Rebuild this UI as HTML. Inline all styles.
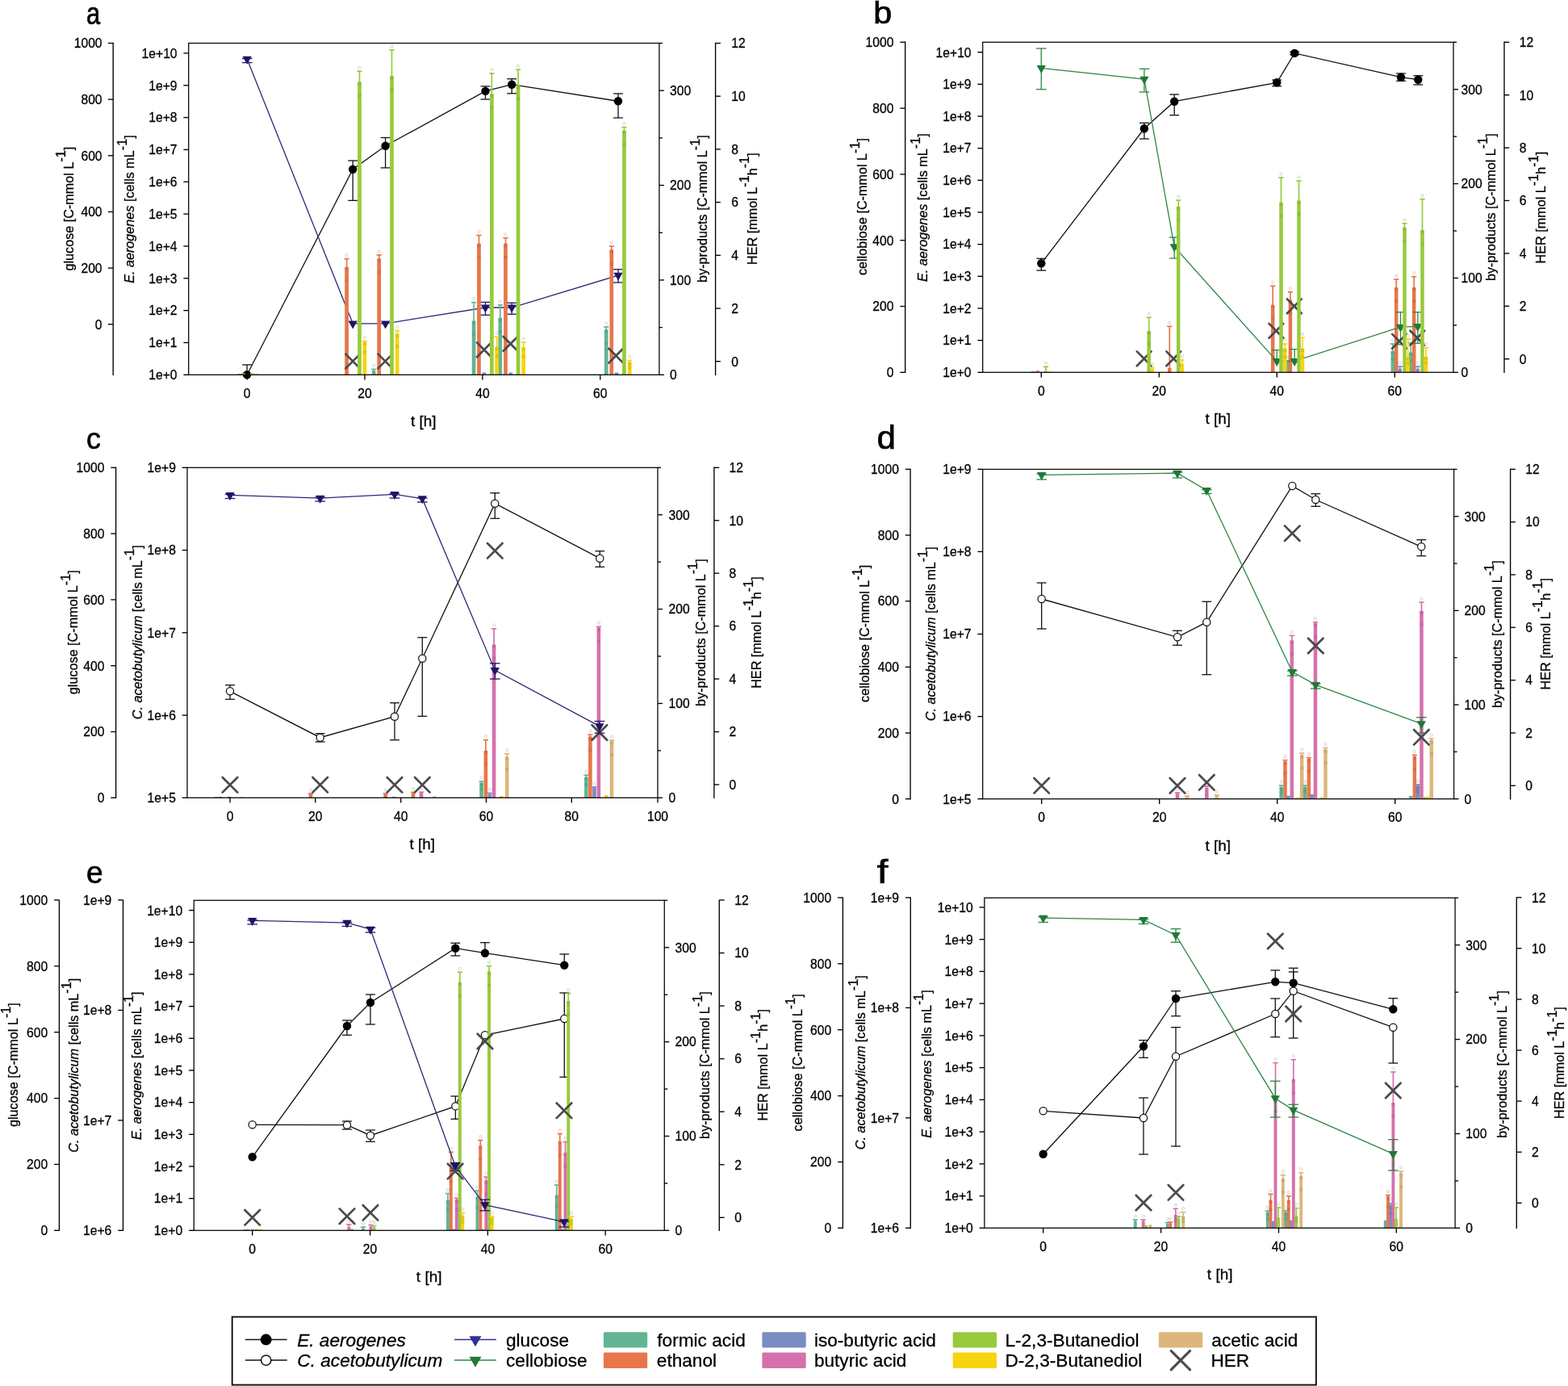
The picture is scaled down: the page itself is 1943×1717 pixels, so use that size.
<!DOCTYPE html>
<html lang="en"><head><meta charset="utf-8"><title>Figure</title>
<style>
html,body{margin:0;padding:0;background:#fff;}
svg{display:block;font-family:"Liberation Sans", Arial, sans-serif;fill:#000;}
svg text{stroke:#000;stroke-width:0.28px;}
svg line,svg polyline,svg rect,svg path{shape-rendering:auto;}
</style></head><body>
<svg width="1943" height="1717" viewBox="0 0 1943 1717">
<rect x="0" y="0" width="1943" height="1717" fill="#fff"/>
<polyline points="306.1,464.3 437.2,209.7 477.6,180.8 601.5,112.9 634.2,104.7 766,125.3" fill="none" stroke="#111" stroke-width="1.3"/>
<line x1="306.1" y1="451.9" x2="306.1" y2="464.3" stroke="#111" stroke-width="1.3" />
<line x1="300.2" y1="451.9" x2="312" y2="451.9" stroke="#111" stroke-width="1.3" />
<line x1="437.2" y1="199" x2="437.2" y2="248.4" stroke="#111" stroke-width="1.3" />
<line x1="431.3" y1="199" x2="443.1" y2="199" stroke="#111" stroke-width="1.3" />
<line x1="431.3" y1="248.4" x2="443.1" y2="248.4" stroke="#111" stroke-width="1.3" />
<line x1="477.6" y1="170.5" x2="477.6" y2="207.9" stroke="#111" stroke-width="1.3" />
<line x1="471.7" y1="170.5" x2="483.5" y2="170.5" stroke="#111" stroke-width="1.3" />
<line x1="471.7" y1="207.9" x2="483.5" y2="207.9" stroke="#111" stroke-width="1.3" />
<line x1="601.5" y1="106.9" x2="601.5" y2="123" stroke="#111" stroke-width="1.3" />
<line x1="595.6" y1="106.9" x2="607.4" y2="106.9" stroke="#111" stroke-width="1.3" />
<line x1="595.6" y1="123" x2="607.4" y2="123" stroke="#111" stroke-width="1.3" />
<line x1="634.2" y1="97.7" x2="634.2" y2="115.8" stroke="#111" stroke-width="1.3" />
<line x1="628.3" y1="97.7" x2="640.1" y2="97.7" stroke="#111" stroke-width="1.3" />
<line x1="628.3" y1="115.8" x2="640.1" y2="115.8" stroke="#111" stroke-width="1.3" />
<line x1="766" y1="116" x2="766" y2="146" stroke="#111" stroke-width="1.3" />
<line x1="760.1" y1="116" x2="771.9" y2="116" stroke="#111" stroke-width="1.3" />
<line x1="760.1" y1="146" x2="771.9" y2="146" stroke="#111" stroke-width="1.3" />
<circle cx="306.1" cy="464.3" r="5.2" fill="#000" stroke="none" stroke-width="0"/>
<circle cx="437.2" cy="209.7" r="5.2" fill="#000" stroke="none" stroke-width="0"/>
<circle cx="477.6" cy="180.8" r="5.2" fill="#000" stroke="none" stroke-width="0"/>
<circle cx="601.5" cy="112.9" r="5.2" fill="#000" stroke="none" stroke-width="0"/>
<circle cx="634.2" cy="104.7" r="5.2" fill="#000" stroke="none" stroke-width="0"/>
<circle cx="766" cy="125.3" r="5.2" fill="#000" stroke="none" stroke-width="0"/>
<polyline points="306.2,73.2 437.2,400.8 477.6,400.8 601.5,381 634.2,381 766,341.1" fill="none" stroke="#2a2a78" stroke-width="1.3"/>
<line x1="306.2" y1="72.5" x2="306.2" y2="77.6" stroke="#1d1565" stroke-width="1.3" />
<line x1="299.9" y1="72.5" x2="312.5" y2="72.5" stroke="#1d1565" stroke-width="1.3" />
<line x1="299.9" y1="77.6" x2="312.5" y2="77.6" stroke="#1d1565" stroke-width="1.3" />
<line x1="601.5" y1="374.4" x2="601.5" y2="390.3" stroke="#1d1565" stroke-width="1.3" />
<line x1="595.2" y1="374.4" x2="607.8" y2="374.4" stroke="#1d1565" stroke-width="1.3" />
<line x1="595.2" y1="390.3" x2="607.8" y2="390.3" stroke="#1d1565" stroke-width="1.3" />
<line x1="634.2" y1="375.2" x2="634.2" y2="389.2" stroke="#1d1565" stroke-width="1.3" />
<line x1="627.9" y1="375.2" x2="640.5" y2="375.2" stroke="#1d1565" stroke-width="1.3" />
<line x1="627.9" y1="389.2" x2="640.5" y2="389.2" stroke="#1d1565" stroke-width="1.3" />
<line x1="766" y1="333.7" x2="766" y2="350" stroke="#1d1565" stroke-width="1.3" />
<line x1="759.7" y1="333.7" x2="772.3" y2="333.7" stroke="#1d1565" stroke-width="1.3" />
<line x1="759.7" y1="350" x2="772.3" y2="350" stroke="#1d1565" stroke-width="1.3" />
<polygon points="300.55,69.8 311.85,69.8 306.2,79.8" fill="#1d1565"/>
<polygon points="431.55,397.4 442.85,397.4 437.2,407.4" fill="#1d1565"/>
<polygon points="471.95,397.4 483.25,397.4 477.6,407.4" fill="#1d1565"/>
<polygon points="595.85,377.6 607.15,377.6 601.5,387.6" fill="#1d1565"/>
<polygon points="628.55,377.6 639.85,377.6 634.2,387.6" fill="#1d1565"/>
<polygon points="760.35,337.7 771.65,337.7 766,347.7" fill="#1d1565"/>
<rect x="295.15" y="463" width="4.7" height="1.3" fill="#62b592"/>
<rect x="299.45" y="462.3" width="4.7" height="2" fill="#e8764b"/>
<line x1="429.6" y1="320.6" x2="429.6" y2="331.3" stroke="#e8764b" stroke-width="1.7" />
<line x1="426.5" y1="320.6" x2="432.7" y2="320.6" stroke="#e8764b" stroke-width="1.7" />
<rect x="427.25" y="330.8" width="4.7" height="133.5" fill="#e8764b"/>
<circle cx="429.6" cy="316.1" r="1.6" fill="#fff" stroke="#aaa" stroke-width="0.5"/>
<circle cx="429.6" cy="333.3" r="1.6" fill="none" stroke="#b9532c" stroke-width="0.55"/>
<circle cx="429.6" cy="347.8" r="1.6" fill="none" stroke="#b9532c" stroke-width="0.55"/>
<line x1="463.2" y1="457.4" x2="463.2" y2="459.7" stroke="#62b592" stroke-width="1.7" />
<line x1="460.1" y1="457.4" x2="466.3" y2="457.4" stroke="#62b592" stroke-width="1.7" />
<rect x="460.85" y="459.2" width="4.7" height="5.1" fill="#62b592"/>
<circle cx="463.2" cy="452.9" r="1.6" fill="#fff" stroke="#aaa" stroke-width="0.5"/>
<line x1="469.7" y1="315.9" x2="469.7" y2="320.8" stroke="#e8764b" stroke-width="1.7" />
<line x1="466.6" y1="315.9" x2="472.8" y2="315.9" stroke="#e8764b" stroke-width="1.7" />
<rect x="467.35" y="320.3" width="4.7" height="144" fill="#e8764b"/>
<circle cx="469.7" cy="311.4" r="1.6" fill="#fff" stroke="#aaa" stroke-width="0.5"/>
<circle cx="469.7" cy="322.8" r="1.6" fill="none" stroke="#b9532c" stroke-width="0.55"/>
<circle cx="469.7" cy="337.3" r="1.6" fill="none" stroke="#b9532c" stroke-width="0.55"/>
<line x1="587.1" y1="374.6" x2="587.1" y2="398" stroke="#62b592" stroke-width="1.7" />
<line x1="584" y1="374.6" x2="590.2" y2="374.6" stroke="#62b592" stroke-width="1.7" />
<rect x="584.75" y="397.5" width="4.7" height="66.8" fill="#62b592"/>
<circle cx="587.1" cy="370.1" r="1.6" fill="#fff" stroke="#aaa" stroke-width="0.5"/>
<circle cx="587.1" cy="400" r="1.6" fill="none" stroke="#3f8f6e" stroke-width="0.55"/>
<circle cx="587.1" cy="414.5" r="1.6" fill="none" stroke="#3f8f6e" stroke-width="0.55"/>
<line x1="593.5" y1="291.5" x2="593.5" y2="302.2" stroke="#e8764b" stroke-width="1.7" />
<line x1="590.4" y1="291.5" x2="596.6" y2="291.5" stroke="#e8764b" stroke-width="1.7" />
<rect x="591.15" y="301.7" width="4.7" height="162.6" fill="#e8764b"/>
<circle cx="593.5" cy="287" r="1.6" fill="#fff" stroke="#aaa" stroke-width="0.5"/>
<circle cx="593.5" cy="304.2" r="1.6" fill="none" stroke="#b9532c" stroke-width="0.55"/>
<circle cx="593.5" cy="318.7" r="1.6" fill="none" stroke="#b9532c" stroke-width="0.55"/>
<rect x="597.55" y="461.5" width="4.7" height="2.8" fill="#7b8cc2"/>
<line x1="619.8" y1="377.9" x2="619.8" y2="394.3" stroke="#62b592" stroke-width="1.7" />
<line x1="616.7" y1="377.9" x2="622.9" y2="377.9" stroke="#62b592" stroke-width="1.7" />
<rect x="617.45" y="393.8" width="4.7" height="70.5" fill="#62b592"/>
<circle cx="619.8" cy="373.4" r="1.6" fill="#fff" stroke="#aaa" stroke-width="0.5"/>
<circle cx="619.8" cy="396.3" r="1.6" fill="none" stroke="#3f8f6e" stroke-width="0.55"/>
<circle cx="619.8" cy="410.8" r="1.6" fill="none" stroke="#3f8f6e" stroke-width="0.55"/>
<line x1="626.5" y1="294.7" x2="626.5" y2="302.2" stroke="#e8764b" stroke-width="1.7" />
<line x1="623.4" y1="294.7" x2="629.6" y2="294.7" stroke="#e8764b" stroke-width="1.7" />
<rect x="624.15" y="301.7" width="4.7" height="162.6" fill="#e8764b"/>
<circle cx="626.5" cy="290.2" r="1.6" fill="#fff" stroke="#aaa" stroke-width="0.5"/>
<circle cx="626.5" cy="304.2" r="1.6" fill="none" stroke="#b9532c" stroke-width="0.55"/>
<circle cx="626.5" cy="318.7" r="1.6" fill="none" stroke="#b9532c" stroke-width="0.55"/>
<rect x="630.45" y="461.5" width="4.7" height="2.8" fill="#7b8cc2"/>
<line x1="751.2" y1="405" x2="751.2" y2="408.8" stroke="#62b592" stroke-width="1.7" />
<line x1="748.1" y1="405" x2="754.3" y2="405" stroke="#62b592" stroke-width="1.7" />
<rect x="748.85" y="408.3" width="4.7" height="56" fill="#62b592"/>
<circle cx="751.2" cy="400.5" r="1.6" fill="#fff" stroke="#aaa" stroke-width="0.5"/>
<circle cx="751.2" cy="410.8" r="1.6" fill="none" stroke="#3f8f6e" stroke-width="0.55"/>
<circle cx="751.2" cy="425.3" r="1.6" fill="none" stroke="#3f8f6e" stroke-width="0.55"/>
<line x1="757.8" y1="305" x2="757.8" y2="309.8" stroke="#e8764b" stroke-width="1.7" />
<line x1="754.7" y1="305" x2="760.9" y2="305" stroke="#e8764b" stroke-width="1.7" />
<rect x="755.45" y="309.3" width="4.7" height="155" fill="#e8764b"/>
<circle cx="757.8" cy="300.5" r="1.6" fill="#fff" stroke="#aaa" stroke-width="0.5"/>
<circle cx="757.8" cy="311.8" r="1.6" fill="none" stroke="#b9532c" stroke-width="0.55"/>
<circle cx="757.8" cy="326.3" r="1.6" fill="none" stroke="#b9532c" stroke-width="0.55"/>
<rect x="761.65" y="461.5" width="4.7" height="2.8" fill="#7b8cc2"/>
<line x1="428.3" y1="438.6" x2="446.1" y2="456.4" stroke="#4a4a4a" stroke-width="2.7" stroke-linecap="round"/>
<line x1="428.3" y1="456.4" x2="446.1" y2="438.6" stroke="#4a4a4a" stroke-width="2.7" stroke-linecap="round"/>
<line x1="468.5" y1="438.6" x2="486.3" y2="456.4" stroke="#4a4a4a" stroke-width="2.7" stroke-linecap="round"/>
<line x1="468.5" y1="456.4" x2="486.3" y2="438.6" stroke="#4a4a4a" stroke-width="2.7" stroke-linecap="round"/>
<line x1="591" y1="424.4" x2="608.8" y2="442.2" stroke="#4a4a4a" stroke-width="2.7" stroke-linecap="round"/>
<line x1="591" y1="442.2" x2="608.8" y2="424.4" stroke="#4a4a4a" stroke-width="2.7" stroke-linecap="round"/>
<line x1="623.7" y1="417" x2="641.5" y2="434.8" stroke="#4a4a4a" stroke-width="2.7" stroke-linecap="round"/>
<line x1="623.7" y1="434.8" x2="641.5" y2="417" stroke="#4a4a4a" stroke-width="2.7" stroke-linecap="round"/>
<line x1="754.4" y1="431.8" x2="772.2" y2="449.6" stroke="#4a4a4a" stroke-width="2.7" stroke-linecap="round"/>
<line x1="754.4" y1="449.6" x2="772.2" y2="431.8" stroke="#4a4a4a" stroke-width="2.7" stroke-linecap="round"/>
<rect x="309.95" y="462.3" width="4.7" height="2" fill="#98ca3c"/>
<rect x="315.65" y="463" width="4.7" height="1.3" fill="#f6d410"/>
<line x1="445.5" y1="88.2" x2="445.5" y2="101.9" stroke="#98ca3c" stroke-width="1.7" />
<line x1="442.4" y1="88.2" x2="448.6" y2="88.2" stroke="#98ca3c" stroke-width="1.7" />
<rect x="443.15" y="101.4" width="4.7" height="362.9" fill="#98ca3c"/>
<circle cx="445.5" cy="83.7" r="1.6" fill="#fff" stroke="#aaa" stroke-width="0.5"/>
<circle cx="445.5" cy="103.9" r="1.6" fill="none" stroke="#6f9f22" stroke-width="0.55"/>
<circle cx="445.5" cy="118.4" r="1.6" fill="none" stroke="#6f9f22" stroke-width="0.55"/>
<line x1="451.9" y1="422.6" x2="451.9" y2="423.9" stroke="#f6d410" stroke-width="1.7" />
<line x1="448.8" y1="422.6" x2="455" y2="422.6" stroke="#f6d410" stroke-width="1.7" />
<rect x="449.55" y="423.4" width="4.7" height="40.9" fill="#f6d410"/>
<circle cx="451.9" cy="418.1" r="1.6" fill="#fff" stroke="#aaa" stroke-width="0.5"/>
<circle cx="451.9" cy="425.9" r="1.6" fill="none" stroke="#b89a00" stroke-width="0.55"/>
<circle cx="451.9" cy="436.62" r="1.6" fill="none" stroke="#b89a00" stroke-width="0.55"/>
<line x1="485.5" y1="61.9" x2="485.5" y2="94.5" stroke="#98ca3c" stroke-width="1.7" />
<line x1="482.4" y1="61.9" x2="488.6" y2="61.9" stroke="#98ca3c" stroke-width="1.7" />
<rect x="483.15" y="94" width="4.7" height="370.3" fill="#98ca3c"/>
<circle cx="485.5" cy="57.4" r="1.6" fill="#fff" stroke="#aaa" stroke-width="0.5"/>
<circle cx="485.5" cy="96.5" r="1.6" fill="none" stroke="#6f9f22" stroke-width="0.55"/>
<circle cx="485.5" cy="111" r="1.6" fill="none" stroke="#6f9f22" stroke-width="0.55"/>
<line x1="492.2" y1="409.6" x2="492.2" y2="414" stroke="#f6d410" stroke-width="1.7" />
<line x1="489.1" y1="409.6" x2="495.3" y2="409.6" stroke="#f6d410" stroke-width="1.7" />
<rect x="489.85" y="413.5" width="4.7" height="50.8" fill="#f6d410"/>
<circle cx="492.2" cy="405.1" r="1.6" fill="#fff" stroke="#aaa" stroke-width="0.5"/>
<circle cx="492.2" cy="416" r="1.6" fill="none" stroke="#b89a00" stroke-width="0.55"/>
<circle cx="492.2" cy="429.2" r="1.6" fill="none" stroke="#b89a00" stroke-width="0.55"/>
<line x1="609.4" y1="90.9" x2="609.4" y2="116.7" stroke="#98ca3c" stroke-width="1.7" />
<line x1="606.3" y1="90.9" x2="612.5" y2="90.9" stroke="#98ca3c" stroke-width="1.7" />
<rect x="607.05" y="116.2" width="4.7" height="348.1" fill="#98ca3c"/>
<circle cx="609.4" cy="86.4" r="1.6" fill="#fff" stroke="#aaa" stroke-width="0.5"/>
<circle cx="609.4" cy="118.7" r="1.6" fill="none" stroke="#6f9f22" stroke-width="0.55"/>
<circle cx="609.4" cy="133.2" r="1.6" fill="none" stroke="#6f9f22" stroke-width="0.55"/>
<line x1="615.7" y1="417.2" x2="615.7" y2="430.1" stroke="#f6d410" stroke-width="1.7" />
<line x1="612.6" y1="417.2" x2="618.8" y2="417.2" stroke="#f6d410" stroke-width="1.7" />
<rect x="613.35" y="429.6" width="4.7" height="34.7" fill="#f6d410"/>
<circle cx="615.7" cy="412.7" r="1.6" fill="#fff" stroke="#aaa" stroke-width="0.5"/>
<circle cx="615.7" cy="432.1" r="1.6" fill="none" stroke="#b89a00" stroke-width="0.55"/>
<circle cx="615.7" cy="441.28" r="1.6" fill="none" stroke="#b89a00" stroke-width="0.55"/>
<line x1="642.1" y1="86.2" x2="642.1" y2="106.2" stroke="#98ca3c" stroke-width="1.7" />
<line x1="639" y1="86.2" x2="645.2" y2="86.2" stroke="#98ca3c" stroke-width="1.7" />
<rect x="639.75" y="105.7" width="4.7" height="358.6" fill="#98ca3c"/>
<circle cx="642.1" cy="81.7" r="1.6" fill="#fff" stroke="#aaa" stroke-width="0.5"/>
<circle cx="642.1" cy="108.2" r="1.6" fill="none" stroke="#6f9f22" stroke-width="0.55"/>
<circle cx="642.1" cy="122.7" r="1.6" fill="none" stroke="#6f9f22" stroke-width="0.55"/>
<line x1="648.7" y1="424" x2="648.7" y2="430.7" stroke="#f6d410" stroke-width="1.7" />
<line x1="645.6" y1="424" x2="651.8" y2="424" stroke="#f6d410" stroke-width="1.7" />
<rect x="646.35" y="430.2" width="4.7" height="34.1" fill="#f6d410"/>
<circle cx="648.7" cy="419.5" r="1.6" fill="#fff" stroke="#aaa" stroke-width="0.5"/>
<circle cx="648.7" cy="432.7" r="1.6" fill="none" stroke="#b89a00" stroke-width="0.55"/>
<circle cx="648.7" cy="441.73" r="1.6" fill="none" stroke="#b89a00" stroke-width="0.55"/>
<line x1="773.5" y1="157.7" x2="773.5" y2="162.2" stroke="#98ca3c" stroke-width="1.7" />
<line x1="770.4" y1="157.7" x2="776.6" y2="157.7" stroke="#98ca3c" stroke-width="1.7" />
<rect x="771.15" y="161.7" width="4.7" height="302.6" fill="#98ca3c"/>
<circle cx="773.5" cy="153.2" r="1.6" fill="#fff" stroke="#aaa" stroke-width="0.5"/>
<circle cx="773.5" cy="164.2" r="1.6" fill="none" stroke="#6f9f22" stroke-width="0.55"/>
<circle cx="773.5" cy="178.7" r="1.6" fill="none" stroke="#6f9f22" stroke-width="0.55"/>
<line x1="780.2" y1="446.5" x2="780.2" y2="448.8" stroke="#f6d410" stroke-width="1.7" />
<line x1="777.1" y1="446.5" x2="783.3" y2="446.5" stroke="#f6d410" stroke-width="1.7" />
<rect x="777.85" y="448.3" width="4.7" height="16" fill="#f6d410"/>
<circle cx="780.2" cy="442" r="1.6" fill="#fff" stroke="#aaa" stroke-width="0.5"/>
<circle cx="780.2" cy="450.8" r="1.6" fill="none" stroke="#b89a00" stroke-width="0.55"/>
<circle cx="780.2" cy="455.3" r="1.6" fill="none" stroke="#b89a00" stroke-width="0.55"/>
<rect x="233.7" y="53.5" width="583.2" height="410.8" fill="none" stroke="#111" stroke-width="1.35"/>
<line x1="233.7" y1="65.9" x2="227.4" y2="65.9" stroke="#000" stroke-width="1.35" />
<text x="219.6" y="71.7" font-size="15.7" text-anchor="end" >1e+10</text>
<line x1="233.7" y1="105.74" x2="227.4" y2="105.74" stroke="#000" stroke-width="1.35" />
<text x="219.6" y="111.54" font-size="15.7" text-anchor="end" >1e+9</text>
<line x1="233.7" y1="145.58" x2="227.4" y2="145.58" stroke="#000" stroke-width="1.35" />
<text x="219.6" y="151.38" font-size="15.7" text-anchor="end" >1e+8</text>
<line x1="233.7" y1="185.42" x2="227.4" y2="185.42" stroke="#000" stroke-width="1.35" />
<text x="219.6" y="191.22" font-size="15.7" text-anchor="end" >1e+7</text>
<line x1="233.7" y1="225.26" x2="227.4" y2="225.26" stroke="#000" stroke-width="1.35" />
<text x="219.6" y="231.06" font-size="15.7" text-anchor="end" >1e+6</text>
<line x1="233.7" y1="265.1" x2="227.4" y2="265.1" stroke="#000" stroke-width="1.35" />
<text x="219.6" y="270.9" font-size="15.7" text-anchor="end" >1e+5</text>
<line x1="233.7" y1="304.94" x2="227.4" y2="304.94" stroke="#000" stroke-width="1.35" />
<text x="219.6" y="310.74" font-size="15.7" text-anchor="end" >1e+4</text>
<line x1="233.7" y1="344.78" x2="227.4" y2="344.78" stroke="#000" stroke-width="1.35" />
<text x="219.6" y="350.58" font-size="15.7" text-anchor="end" >1e+3</text>
<line x1="233.7" y1="384.62" x2="227.4" y2="384.62" stroke="#000" stroke-width="1.35" />
<text x="219.6" y="390.42" font-size="15.7" text-anchor="end" >1e+2</text>
<line x1="233.7" y1="424.46" x2="227.4" y2="424.46" stroke="#000" stroke-width="1.35" />
<text x="219.6" y="430.26" font-size="15.7" text-anchor="end" >1e+1</text>
<line x1="233.7" y1="464.3" x2="227.4" y2="464.3" stroke="#000" stroke-width="1.35" />
<text x="219.6" y="470.1" font-size="15.7" text-anchor="end" >1e+0</text>
<line x1="140.2" y1="52.83" x2="140.2" y2="464.98" stroke="#000" stroke-width="1.35" />
<line x1="140.2" y1="401.7" x2="133.9" y2="401.7" stroke="#000" stroke-width="1.35" />
<text x="126.6" y="407.5" font-size="15.7" text-anchor="end" >0</text>
<line x1="140.2" y1="332.06" x2="133.9" y2="332.06" stroke="#000" stroke-width="1.35" />
<text x="126.6" y="337.86" font-size="15.7" text-anchor="end" >200</text>
<line x1="140.2" y1="262.42" x2="133.9" y2="262.42" stroke="#000" stroke-width="1.35" />
<text x="126.6" y="268.22" font-size="15.7" text-anchor="end" >400</text>
<line x1="140.2" y1="192.78" x2="133.9" y2="192.78" stroke="#000" stroke-width="1.35" />
<text x="126.6" y="198.58" font-size="15.7" text-anchor="end" >600</text>
<line x1="140.2" y1="123.14" x2="133.9" y2="123.14" stroke="#000" stroke-width="1.35" />
<text x="126.6" y="128.94" font-size="15.7" text-anchor="end" >800</text>
<line x1="140.2" y1="53.5" x2="133.9" y2="53.5" stroke="#000" stroke-width="1.35" />
<text x="126.6" y="59.3" font-size="15.7" text-anchor="end" >1000</text>
<line x1="816.9" y1="464.3" x2="822.9" y2="464.3" stroke="#000" stroke-width="1.35" />
<text x="830" y="470.1" font-size="15.7" text-anchor="start" >0</text>
<line x1="816.9" y1="346.93" x2="822.9" y2="346.93" stroke="#000" stroke-width="1.35" />
<text x="830" y="352.73" font-size="15.7" text-anchor="start" >100</text>
<line x1="816.9" y1="229.56" x2="822.9" y2="229.56" stroke="#000" stroke-width="1.35" />
<text x="830" y="235.36" font-size="15.7" text-anchor="start" >200</text>
<line x1="816.9" y1="112.19" x2="822.9" y2="112.19" stroke="#000" stroke-width="1.35" />
<text x="830" y="117.99" font-size="15.7" text-anchor="start" >300</text>
<line x1="816.9" y1="405.61" x2="820.9" y2="405.61" stroke="#000" stroke-width="1.35" />
<line x1="816.9" y1="288.24" x2="820.9" y2="288.24" stroke="#000" stroke-width="1.35" />
<line x1="816.9" y1="170.87" x2="820.9" y2="170.87" stroke="#000" stroke-width="1.35" />
<line x1="816.9" y1="53.5" x2="820.9" y2="53.5" stroke="#000" stroke-width="1.35" />
<line x1="886.6" y1="52.83" x2="886.6" y2="464.98" stroke="#000" stroke-width="1.35" />
<line x1="886.6" y1="447.7" x2="892.9" y2="447.7" stroke="#000" stroke-width="1.35" />
<text x="906.2" y="453.5" font-size="15.7" text-anchor="start" >0</text>
<line x1="886.6" y1="382" x2="892.9" y2="382" stroke="#000" stroke-width="1.35" />
<text x="906.2" y="387.8" font-size="15.7" text-anchor="start" >2</text>
<line x1="886.6" y1="316.3" x2="892.9" y2="316.3" stroke="#000" stroke-width="1.35" />
<text x="906.2" y="322.1" font-size="15.7" text-anchor="start" >4</text>
<line x1="886.6" y1="250.6" x2="892.9" y2="250.6" stroke="#000" stroke-width="1.35" />
<text x="906.2" y="256.4" font-size="15.7" text-anchor="start" >6</text>
<line x1="886.6" y1="184.9" x2="892.9" y2="184.9" stroke="#000" stroke-width="1.35" />
<text x="906.2" y="190.7" font-size="15.7" text-anchor="start" >8</text>
<line x1="886.6" y1="119.2" x2="892.9" y2="119.2" stroke="#000" stroke-width="1.35" />
<text x="906.2" y="125" font-size="15.7" text-anchor="start" >10</text>
<line x1="886.6" y1="53.5" x2="892.9" y2="53.5" stroke="#000" stroke-width="1.35" />
<text x="906.2" y="59.3" font-size="15.7" text-anchor="start" >12</text>
<line x1="306.1" y1="464.3" x2="306.1" y2="470.5" stroke="#000" stroke-width="1.35" />
<text x="306.1" y="492.6" font-size="15.7" text-anchor="middle" >0</text>
<line x1="452" y1="464.3" x2="452" y2="470.5" stroke="#000" stroke-width="1.35" />
<text x="452" y="492.6" font-size="15.7" text-anchor="middle" >20</text>
<line x1="597.9" y1="464.3" x2="597.9" y2="470.5" stroke="#000" stroke-width="1.35" />
<text x="597.9" y="492.6" font-size="15.7" text-anchor="middle" >40</text>
<line x1="743.8" y1="464.3" x2="743.8" y2="470.5" stroke="#000" stroke-width="1.35" />
<text x="743.8" y="492.6" font-size="15.7" text-anchor="middle" >60</text>
<text x="524.8" y="528.1" font-size="19" text-anchor="middle" >t [h]</text>
<text transform="translate(91,181.65) rotate(-90)" font-size="16.2" text-anchor="end"><tspan dy="0">glucose [C-mmol L</tspan><tspan dy="-9.56">-1</tspan><tspan dy="9.56">]</tspan></text>
<text transform="translate(166.2,167.25) rotate(-90)" font-size="16.2" text-anchor="end"><tspan dy="0" font-style="italic">E. aerogenes</tspan><tspan dy="0"> [cells mL</tspan><tspan dy="-9.56">-1</tspan><tspan dy="9.56">]</tspan></text>
<text transform="translate(876.1,167.25) rotate(-90)" font-size="16.2" text-anchor="end"><tspan dy="0">by-products [C-mmol L</tspan><tspan dy="-9.56">-1</tspan><tspan dy="9.56">]</tspan></text>
<text transform="translate(937.9,189.35) rotate(-90)" font-size="16.2" text-anchor="end"><tspan dy="0">HER [mmol L</tspan><tspan dy="-9.56">-1</tspan><tspan dy="9.56">h</tspan><tspan dy="-9.56">-1</tspan><tspan dy="9.56">]</tspan></text>
<text transform="translate(106.9,29.6) scale(0.8125,1.004)" font-size="38" style="stroke-width:0.7px">a</text>
<polyline points="1290.3,326.3 1417.9,159.3 1455.2,125.7 1582.2,102.3 1604.2,65.9 1736,95.7 1757.3,98.7" fill="none" stroke="#111" stroke-width="1.3"/>
<line x1="1290.3" y1="320.3" x2="1290.3" y2="335" stroke="#111" stroke-width="1.3" />
<line x1="1284.4" y1="320.3" x2="1296.2" y2="320.3" stroke="#111" stroke-width="1.3" />
<line x1="1284.4" y1="335" x2="1296.2" y2="335" stroke="#111" stroke-width="1.3" />
<line x1="1417.9" y1="152.3" x2="1417.9" y2="172" stroke="#111" stroke-width="1.3" />
<line x1="1412" y1="152.3" x2="1423.8" y2="152.3" stroke="#111" stroke-width="1.3" />
<line x1="1412" y1="172" x2="1423.8" y2="172" stroke="#111" stroke-width="1.3" />
<line x1="1455.2" y1="117" x2="1455.2" y2="142.7" stroke="#111" stroke-width="1.3" />
<line x1="1449.3" y1="117" x2="1461.1" y2="117" stroke="#111" stroke-width="1.3" />
<line x1="1449.3" y1="142.7" x2="1461.1" y2="142.7" stroke="#111" stroke-width="1.3" />
<line x1="1582.2" y1="99" x2="1582.2" y2="106.7" stroke="#111" stroke-width="1.3" />
<line x1="1576.3" y1="99" x2="1588.1" y2="99" stroke="#111" stroke-width="1.3" />
<line x1="1576.3" y1="106.7" x2="1588.1" y2="106.7" stroke="#111" stroke-width="1.3" />
<line x1="1604.2" y1="64.2" x2="1604.2" y2="67.8" stroke="#111" stroke-width="1.3" />
<line x1="1598.3" y1="64.2" x2="1610.1" y2="64.2" stroke="#111" stroke-width="1.3" />
<line x1="1598.3" y1="67.8" x2="1610.1" y2="67.8" stroke="#111" stroke-width="1.3" />
<line x1="1736" y1="91" x2="1736" y2="100.3" stroke="#111" stroke-width="1.3" />
<line x1="1730.1" y1="91" x2="1741.9" y2="91" stroke="#111" stroke-width="1.3" />
<line x1="1730.1" y1="100.3" x2="1741.9" y2="100.3" stroke="#111" stroke-width="1.3" />
<line x1="1757.3" y1="93.7" x2="1757.3" y2="105" stroke="#111" stroke-width="1.3" />
<line x1="1751.4" y1="93.7" x2="1763.2" y2="93.7" stroke="#111" stroke-width="1.3" />
<line x1="1751.4" y1="105" x2="1763.2" y2="105" stroke="#111" stroke-width="1.3" />
<circle cx="1290.3" cy="326.3" r="5.2" fill="#000" stroke="none" stroke-width="0"/>
<circle cx="1417.9" cy="159.3" r="5.2" fill="#000" stroke="none" stroke-width="0"/>
<circle cx="1455.2" cy="125.7" r="5.2" fill="#000" stroke="none" stroke-width="0"/>
<circle cx="1582.2" cy="102.3" r="5.2" fill="#000" stroke="none" stroke-width="0"/>
<circle cx="1604.2" cy="65.9" r="5.2" fill="#000" stroke="none" stroke-width="0"/>
<circle cx="1736" cy="95.7" r="5.2" fill="#000" stroke="none" stroke-width="0"/>
<circle cx="1757.3" cy="98.7" r="5.2" fill="#000" stroke="none" stroke-width="0"/>
<rect x="1277.75" y="460" width="4.5" height="1.3" fill="#62b592"/>
<rect x="1283.45" y="459.2" width="4.5" height="2.1" fill="#e8764b"/>
<line x1="1449.3" y1="404.3" x2="1449.3" y2="456.5" stroke="#e8764b" stroke-width="1.7" />
<line x1="1446.2" y1="404.3" x2="1452.4" y2="404.3" stroke="#e8764b" stroke-width="1.7" />
<rect x="1447.05" y="456" width="4.5" height="5.3" fill="#e8764b"/>
<circle cx="1449.3" cy="399.8" r="1.6" fill="#fff" stroke="#aaa" stroke-width="0.5"/>
<line x1="1577.2" y1="354.3" x2="1577.2" y2="378.2" stroke="#e8764b" stroke-width="1.7" />
<line x1="1574.1" y1="354.3" x2="1580.3" y2="354.3" stroke="#e8764b" stroke-width="1.7" />
<rect x="1574.95" y="377.7" width="4.5" height="83.6" fill="#e8764b"/>
<circle cx="1577.2" cy="349.8" r="1.6" fill="#fff" stroke="#aaa" stroke-width="0.5"/>
<circle cx="1577.2" cy="380.2" r="1.6" fill="none" stroke="#b9532c" stroke-width="0.55"/>
<circle cx="1577.2" cy="394.7" r="1.6" fill="none" stroke="#b9532c" stroke-width="0.55"/>
<line x1="1595.8" y1="447" x2="1595.8" y2="448.2" stroke="#62b592" stroke-width="1.7" />
<line x1="1592.7" y1="447" x2="1598.9" y2="447" stroke="#62b592" stroke-width="1.7" />
<rect x="1593.55" y="447.7" width="4.5" height="13.6" fill="#62b592"/>
<circle cx="1595.8" cy="442.5" r="1.6" fill="#fff" stroke="#aaa" stroke-width="0.5"/>
<line x1="1598.9" y1="361.7" x2="1598.9" y2="372" stroke="#e8764b" stroke-width="1.7" />
<line x1="1595.8" y1="361.7" x2="1602" y2="361.7" stroke="#e8764b" stroke-width="1.7" />
<rect x="1596.65" y="371.5" width="4.5" height="89.8" fill="#e8764b"/>
<circle cx="1598.9" cy="357.2" r="1.6" fill="#fff" stroke="#aaa" stroke-width="0.5"/>
<circle cx="1598.9" cy="374" r="1.6" fill="none" stroke="#b9532c" stroke-width="0.55"/>
<circle cx="1598.9" cy="388.5" r="1.6" fill="none" stroke="#b9532c" stroke-width="0.55"/>
<line x1="1725.8" y1="426" x2="1725.8" y2="435.5" stroke="#62b592" stroke-width="1.7" />
<line x1="1722.7" y1="426" x2="1728.9" y2="426" stroke="#62b592" stroke-width="1.7" />
<rect x="1723.55" y="435" width="4.5" height="26.3" fill="#62b592"/>
<circle cx="1725.8" cy="421.5" r="1.6" fill="#fff" stroke="#aaa" stroke-width="0.5"/>
<circle cx="1725.8" cy="437.5" r="1.6" fill="none" stroke="#3f8f6e" stroke-width="0.55"/>
<circle cx="1725.8" cy="444.57" r="1.6" fill="none" stroke="#3f8f6e" stroke-width="0.55"/>
<line x1="1730.2" y1="346" x2="1730.2" y2="356.5" stroke="#e8764b" stroke-width="1.7" />
<line x1="1727.1" y1="346" x2="1733.3" y2="346" stroke="#e8764b" stroke-width="1.7" />
<rect x="1727.95" y="356" width="4.5" height="105.3" fill="#e8764b"/>
<circle cx="1730.2" cy="341.5" r="1.6" fill="#fff" stroke="#aaa" stroke-width="0.5"/>
<circle cx="1730.2" cy="358.5" r="1.6" fill="none" stroke="#b9532c" stroke-width="0.55"/>
<circle cx="1730.2" cy="373" r="1.6" fill="none" stroke="#b9532c" stroke-width="0.55"/>
<line x1="1734.7" y1="454" x2="1734.7" y2="457.2" stroke="#7b8cc2" stroke-width="1.7" />
<line x1="1731.6" y1="454" x2="1737.8" y2="454" stroke="#7b8cc2" stroke-width="1.7" />
<rect x="1732.45" y="456.7" width="4.5" height="4.6" fill="#7b8cc2"/>
<circle cx="1734.7" cy="449.5" r="1.6" fill="#fff" stroke="#aaa" stroke-width="0.5"/>
<line x1="1748.2" y1="425" x2="1748.2" y2="437" stroke="#62b592" stroke-width="1.7" />
<line x1="1745.1" y1="425" x2="1751.3" y2="425" stroke="#62b592" stroke-width="1.7" />
<rect x="1745.95" y="436.5" width="4.5" height="24.8" fill="#62b592"/>
<circle cx="1748.2" cy="420.5" r="1.6" fill="#fff" stroke="#aaa" stroke-width="0.5"/>
<circle cx="1748.2" cy="439" r="1.6" fill="none" stroke="#3f8f6e" stroke-width="0.55"/>
<circle cx="1748.2" cy="445.7" r="1.6" fill="none" stroke="#3f8f6e" stroke-width="0.55"/>
<line x1="1752.2" y1="342.7" x2="1752.2" y2="356.5" stroke="#e8764b" stroke-width="1.7" />
<line x1="1749.1" y1="342.7" x2="1755.3" y2="342.7" stroke="#e8764b" stroke-width="1.7" />
<rect x="1749.95" y="356" width="4.5" height="105.3" fill="#e8764b"/>
<circle cx="1752.2" cy="338.2" r="1.6" fill="#fff" stroke="#aaa" stroke-width="0.5"/>
<circle cx="1752.2" cy="358.5" r="1.6" fill="none" stroke="#b9532c" stroke-width="0.55"/>
<circle cx="1752.2" cy="373" r="1.6" fill="none" stroke="#b9532c" stroke-width="0.55"/>
<line x1="1756.7" y1="454" x2="1756.7" y2="457.5" stroke="#7b8cc2" stroke-width="1.7" />
<line x1="1753.6" y1="454" x2="1759.8" y2="454" stroke="#7b8cc2" stroke-width="1.7" />
<rect x="1754.45" y="457" width="4.5" height="4.3" fill="#7b8cc2"/>
<circle cx="1756.7" cy="449.5" r="1.6" fill="#fff" stroke="#aaa" stroke-width="0.5"/>
<polyline points="1290.3,84.4 1417.9,98.1 1455.2,305.7 1582.2,447.4 1604.2,447.4 1735.5,405.1 1756.8,404.4" fill="none" stroke="#2d8644" stroke-width="1.3"/>
<line x1="1290.3" y1="60" x2="1290.3" y2="110.7" stroke="#2d8644" stroke-width="1.3" />
<line x1="1284" y1="60" x2="1296.6" y2="60" stroke="#2d8644" stroke-width="1.3" />
<line x1="1284" y1="110.7" x2="1296.6" y2="110.7" stroke="#2d8644" stroke-width="1.3" />
<line x1="1417.9" y1="85.3" x2="1417.9" y2="114" stroke="#2d8644" stroke-width="1.3" />
<line x1="1411.6" y1="85.3" x2="1424.2" y2="85.3" stroke="#2d8644" stroke-width="1.3" />
<line x1="1411.6" y1="114" x2="1424.2" y2="114" stroke="#2d8644" stroke-width="1.3" />
<line x1="1455.2" y1="294" x2="1455.2" y2="320" stroke="#2d8644" stroke-width="1.3" />
<line x1="1448.9" y1="294" x2="1461.5" y2="294" stroke="#2d8644" stroke-width="1.3" />
<line x1="1448.9" y1="320" x2="1461.5" y2="320" stroke="#2d8644" stroke-width="1.3" />
<line x1="1582.2" y1="433.7" x2="1582.2" y2="449" stroke="#2d8644" stroke-width="1.3" />
<line x1="1575.9" y1="433.7" x2="1588.5" y2="433.7" stroke="#2d8644" stroke-width="1.3" />
<line x1="1604.2" y1="432.7" x2="1604.2" y2="449" stroke="#2d8644" stroke-width="1.3" />
<line x1="1597.9" y1="432.7" x2="1610.5" y2="432.7" stroke="#2d8644" stroke-width="1.3" />
<line x1="1735.5" y1="386.7" x2="1735.5" y2="426.7" stroke="#2d8644" stroke-width="1.3" />
<line x1="1729.2" y1="386.7" x2="1741.8" y2="386.7" stroke="#2d8644" stroke-width="1.3" />
<line x1="1729.2" y1="426.7" x2="1741.8" y2="426.7" stroke="#2d8644" stroke-width="1.3" />
<line x1="1756.8" y1="386.7" x2="1756.8" y2="425.3" stroke="#2d8644" stroke-width="1.3" />
<line x1="1750.5" y1="386.7" x2="1763.1" y2="386.7" stroke="#2d8644" stroke-width="1.3" />
<line x1="1750.5" y1="425.3" x2="1763.1" y2="425.3" stroke="#2d8644" stroke-width="1.3" />
<polygon points="1284.65,81 1295.95,81 1290.3,91" fill="#1e7a35"/>
<polygon points="1412.25,94.7 1423.55,94.7 1417.9,104.7" fill="#1e7a35"/>
<polygon points="1449.55,302.3 1460.85,302.3 1455.2,312.3" fill="#1e7a35"/>
<polygon points="1576.55,444 1587.85,444 1582.2,454" fill="#1e7a35"/>
<polygon points="1598.55,444 1609.85,444 1604.2,454" fill="#1e7a35"/>
<polygon points="1729.85,401.7 1741.15,401.7 1735.5,411.7" fill="#1e7a35"/>
<polygon points="1751.15,401 1762.45,401 1756.8,411" fill="#1e7a35"/>
<line x1="1408.8" y1="435.4" x2="1426.6" y2="453.2" stroke="#4a4a4a" stroke-width="2.7" stroke-linecap="round"/>
<line x1="1408.8" y1="453.2" x2="1426.6" y2="435.4" stroke="#4a4a4a" stroke-width="2.7" stroke-linecap="round"/>
<line x1="1445.4" y1="435.4" x2="1463.2" y2="453.2" stroke="#4a4a4a" stroke-width="2.7" stroke-linecap="round"/>
<line x1="1445.4" y1="453.2" x2="1463.2" y2="435.4" stroke="#4a4a4a" stroke-width="2.7" stroke-linecap="round"/>
<line x1="1572.5" y1="400.9" x2="1590.3" y2="418.7" stroke="#4a4a4a" stroke-width="2.7" stroke-linecap="round"/>
<line x1="1572.5" y1="418.7" x2="1590.3" y2="400.9" stroke="#4a4a4a" stroke-width="2.7" stroke-linecap="round"/>
<line x1="1594.9" y1="370.4" x2="1612.7" y2="388.2" stroke="#4a4a4a" stroke-width="2.7" stroke-linecap="round"/>
<line x1="1594.9" y1="388.2" x2="1612.7" y2="370.4" stroke="#4a4a4a" stroke-width="2.7" stroke-linecap="round"/>
<line x1="1725.1" y1="413.9" x2="1742.9" y2="431.7" stroke="#4a4a4a" stroke-width="2.7" stroke-linecap="round"/>
<line x1="1725.1" y1="431.7" x2="1742.9" y2="413.9" stroke="#4a4a4a" stroke-width="2.7" stroke-linecap="round"/>
<line x1="1747.4" y1="409.7" x2="1765.2" y2="427.5" stroke="#4a4a4a" stroke-width="2.7" stroke-linecap="round"/>
<line x1="1747.4" y1="427.5" x2="1765.2" y2="409.7" stroke="#4a4a4a" stroke-width="2.7" stroke-linecap="round"/>
<line x1="1296" y1="454.3" x2="1296" y2="460.5" stroke="#98ca3c" stroke-width="1.7" />
<line x1="1292.9" y1="454.3" x2="1299.1" y2="454.3" stroke="#98ca3c" stroke-width="1.7" />
<rect x="1293.75" y="460" width="4.5" height="1.3" fill="#98ca3c"/>
<circle cx="1296" cy="449.8" r="1.6" fill="#fff" stroke="#aaa" stroke-width="0.5"/>
<rect x="1298.75" y="460.3" width="4.5" height="1" fill="#f6d410"/>
<line x1="1423.7" y1="393.3" x2="1423.7" y2="410.5" stroke="#98ca3c" stroke-width="1.7" />
<line x1="1420.6" y1="393.3" x2="1426.8" y2="393.3" stroke="#98ca3c" stroke-width="1.7" />
<rect x="1421.45" y="410" width="4.5" height="51.3" fill="#98ca3c"/>
<circle cx="1423.7" cy="388.8" r="1.6" fill="#fff" stroke="#aaa" stroke-width="0.5"/>
<circle cx="1423.7" cy="412.5" r="1.6" fill="none" stroke="#6f9f22" stroke-width="0.55"/>
<circle cx="1423.7" cy="425.82" r="1.6" fill="none" stroke="#6f9f22" stroke-width="0.55"/>
<line x1="1427.7" y1="455.5" x2="1427.7" y2="457.2" stroke="#f6d410" stroke-width="1.7" />
<line x1="1424.6" y1="455.5" x2="1430.8" y2="455.5" stroke="#f6d410" stroke-width="1.7" />
<rect x="1425.45" y="456.7" width="4.5" height="4.6" fill="#f6d410"/>
<circle cx="1427.7" cy="451" r="1.6" fill="#fff" stroke="#aaa" stroke-width="0.5"/>
<line x1="1460.2" y1="248" x2="1460.2" y2="256.5" stroke="#98ca3c" stroke-width="1.7" />
<line x1="1457.1" y1="248" x2="1463.3" y2="248" stroke="#98ca3c" stroke-width="1.7" />
<rect x="1457.95" y="256" width="4.5" height="205.3" fill="#98ca3c"/>
<circle cx="1460.2" cy="243.5" r="1.6" fill="#fff" stroke="#aaa" stroke-width="0.5"/>
<circle cx="1460.2" cy="258.5" r="1.6" fill="none" stroke="#6f9f22" stroke-width="0.55"/>
<circle cx="1460.2" cy="273" r="1.6" fill="none" stroke="#6f9f22" stroke-width="0.55"/>
<line x1="1464.7" y1="446" x2="1464.7" y2="451.2" stroke="#f6d410" stroke-width="1.7" />
<line x1="1461.6" y1="446" x2="1467.8" y2="446" stroke="#f6d410" stroke-width="1.7" />
<rect x="1462.45" y="450.7" width="4.5" height="10.6" fill="#f6d410"/>
<circle cx="1464.7" cy="441.5" r="1.6" fill="#fff" stroke="#aaa" stroke-width="0.5"/>
<line x1="1587.5" y1="220" x2="1587.5" y2="251.2" stroke="#98ca3c" stroke-width="1.7" />
<line x1="1584.4" y1="220" x2="1590.6" y2="220" stroke="#98ca3c" stroke-width="1.7" />
<rect x="1585.25" y="250.7" width="4.5" height="210.6" fill="#98ca3c"/>
<circle cx="1587.5" cy="215.5" r="1.6" fill="#fff" stroke="#aaa" stroke-width="0.5"/>
<circle cx="1587.5" cy="253.2" r="1.6" fill="none" stroke="#6f9f22" stroke-width="0.55"/>
<circle cx="1587.5" cy="267.7" r="1.6" fill="none" stroke="#6f9f22" stroke-width="0.55"/>
<line x1="1592.3" y1="426" x2="1592.3" y2="432.2" stroke="#f6d410" stroke-width="1.7" />
<line x1="1589.2" y1="426" x2="1595.4" y2="426" stroke="#f6d410" stroke-width="1.7" />
<rect x="1590.05" y="431.7" width="4.5" height="29.6" fill="#f6d410"/>
<circle cx="1592.3" cy="421.5" r="1.6" fill="#fff" stroke="#aaa" stroke-width="0.5"/>
<circle cx="1592.3" cy="434.2" r="1.6" fill="none" stroke="#b89a00" stroke-width="0.55"/>
<circle cx="1592.3" cy="442.1" r="1.6" fill="none" stroke="#b89a00" stroke-width="0.55"/>
<line x1="1609.5" y1="224" x2="1609.5" y2="248.8" stroke="#98ca3c" stroke-width="1.7" />
<line x1="1606.4" y1="224" x2="1612.6" y2="224" stroke="#98ca3c" stroke-width="1.7" />
<rect x="1607.25" y="248.3" width="4.5" height="213" fill="#98ca3c"/>
<circle cx="1609.5" cy="219.5" r="1.6" fill="#fff" stroke="#aaa" stroke-width="0.5"/>
<circle cx="1609.5" cy="250.8" r="1.6" fill="none" stroke="#6f9f22" stroke-width="0.55"/>
<circle cx="1609.5" cy="265.3" r="1.6" fill="none" stroke="#6f9f22" stroke-width="0.55"/>
<line x1="1614" y1="418.3" x2="1614" y2="432.2" stroke="#f6d410" stroke-width="1.7" />
<line x1="1610.9" y1="418.3" x2="1617.1" y2="418.3" stroke="#f6d410" stroke-width="1.7" />
<rect x="1611.75" y="431.7" width="4.5" height="29.6" fill="#f6d410"/>
<circle cx="1614" cy="413.8" r="1.6" fill="#fff" stroke="#aaa" stroke-width="0.5"/>
<circle cx="1614" cy="434.2" r="1.6" fill="none" stroke="#b89a00" stroke-width="0.55"/>
<circle cx="1614" cy="442.1" r="1.6" fill="none" stroke="#b89a00" stroke-width="0.55"/>
<line x1="1740.5" y1="276.7" x2="1740.5" y2="282.2" stroke="#98ca3c" stroke-width="1.7" />
<line x1="1737.4" y1="276.7" x2="1743.6" y2="276.7" stroke="#98ca3c" stroke-width="1.7" />
<rect x="1738.25" y="281.7" width="4.5" height="179.6" fill="#98ca3c"/>
<circle cx="1740.5" cy="272.2" r="1.6" fill="#fff" stroke="#aaa" stroke-width="0.5"/>
<circle cx="1740.5" cy="284.2" r="1.6" fill="none" stroke="#6f9f22" stroke-width="0.55"/>
<circle cx="1740.5" cy="298.7" r="1.6" fill="none" stroke="#6f9f22" stroke-width="0.55"/>
<line x1="1744.6" y1="419.9" x2="1744.6" y2="442.3" stroke="#f6d410" stroke-width="1.7" />
<line x1="1741.5" y1="419.9" x2="1747.7" y2="419.9" stroke="#f6d410" stroke-width="1.7" />
<rect x="1742.35" y="441.8" width="4.5" height="19.5" fill="#f6d410"/>
<circle cx="1744.6" cy="415.4" r="1.6" fill="#fff" stroke="#aaa" stroke-width="0.5"/>
<circle cx="1744.6" cy="444.3" r="1.6" fill="none" stroke="#b89a00" stroke-width="0.55"/>
<circle cx="1744.6" cy="449.68" r="1.6" fill="none" stroke="#b89a00" stroke-width="0.55"/>
<line x1="1762.5" y1="246.7" x2="1762.5" y2="285.5" stroke="#98ca3c" stroke-width="1.7" />
<line x1="1759.4" y1="246.7" x2="1765.6" y2="246.7" stroke="#98ca3c" stroke-width="1.7" />
<rect x="1760.25" y="285" width="4.5" height="176.3" fill="#98ca3c"/>
<circle cx="1762.5" cy="242.2" r="1.6" fill="#fff" stroke="#aaa" stroke-width="0.5"/>
<circle cx="1762.5" cy="287.5" r="1.6" fill="none" stroke="#6f9f22" stroke-width="0.55"/>
<circle cx="1762.5" cy="302" r="1.6" fill="none" stroke="#6f9f22" stroke-width="0.55"/>
<line x1="1767" y1="430.7" x2="1767" y2="442.2" stroke="#f6d410" stroke-width="1.7" />
<line x1="1763.9" y1="430.7" x2="1770.1" y2="430.7" stroke="#f6d410" stroke-width="1.7" />
<rect x="1764.75" y="441.7" width="4.5" height="19.6" fill="#f6d410"/>
<circle cx="1767" cy="426.2" r="1.6" fill="#fff" stroke="#aaa" stroke-width="0.5"/>
<circle cx="1767" cy="444.2" r="1.6" fill="none" stroke="#b89a00" stroke-width="0.55"/>
<circle cx="1767" cy="449.6" r="1.6" fill="none" stroke="#b89a00" stroke-width="0.55"/>
<rect x="1217.7" y="52.3" width="583.3" height="409" fill="none" stroke="#111" stroke-width="1.35"/>
<line x1="1217.7" y1="64.7" x2="1211.4" y2="64.7" stroke="#000" stroke-width="1.35" />
<text x="1203.6" y="70.5" font-size="15.7" text-anchor="end" >1e+10</text>
<line x1="1217.7" y1="104.36" x2="1211.4" y2="104.36" stroke="#000" stroke-width="1.35" />
<text x="1203.6" y="110.16" font-size="15.7" text-anchor="end" >1e+9</text>
<line x1="1217.7" y1="144.02" x2="1211.4" y2="144.02" stroke="#000" stroke-width="1.35" />
<text x="1203.6" y="149.82" font-size="15.7" text-anchor="end" >1e+8</text>
<line x1="1217.7" y1="183.68" x2="1211.4" y2="183.68" stroke="#000" stroke-width="1.35" />
<text x="1203.6" y="189.48" font-size="15.7" text-anchor="end" >1e+7</text>
<line x1="1217.7" y1="223.34" x2="1211.4" y2="223.34" stroke="#000" stroke-width="1.35" />
<text x="1203.6" y="229.14" font-size="15.7" text-anchor="end" >1e+6</text>
<line x1="1217.7" y1="263" x2="1211.4" y2="263" stroke="#000" stroke-width="1.35" />
<text x="1203.6" y="268.8" font-size="15.7" text-anchor="end" >1e+5</text>
<line x1="1217.7" y1="302.66" x2="1211.4" y2="302.66" stroke="#000" stroke-width="1.35" />
<text x="1203.6" y="308.46" font-size="15.7" text-anchor="end" >1e+4</text>
<line x1="1217.7" y1="342.32" x2="1211.4" y2="342.32" stroke="#000" stroke-width="1.35" />
<text x="1203.6" y="348.12" font-size="15.7" text-anchor="end" >1e+3</text>
<line x1="1217.7" y1="381.98" x2="1211.4" y2="381.98" stroke="#000" stroke-width="1.35" />
<text x="1203.6" y="387.78" font-size="15.7" text-anchor="end" >1e+2</text>
<line x1="1217.7" y1="421.64" x2="1211.4" y2="421.64" stroke="#000" stroke-width="1.35" />
<text x="1203.6" y="427.44" font-size="15.7" text-anchor="end" >1e+1</text>
<line x1="1217.7" y1="461.3" x2="1211.4" y2="461.3" stroke="#000" stroke-width="1.35" />
<text x="1203.6" y="467.1" font-size="15.7" text-anchor="end" >1e+0</text>
<line x1="1121.7" y1="51.62" x2="1121.7" y2="461.98" stroke="#000" stroke-width="1.35" />
<line x1="1121.7" y1="461.3" x2="1115.4" y2="461.3" stroke="#000" stroke-width="1.35" />
<text x="1107.5" y="467.1" font-size="15.7" text-anchor="end" >0</text>
<line x1="1121.7" y1="379.5" x2="1115.4" y2="379.5" stroke="#000" stroke-width="1.35" />
<text x="1107.5" y="385.3" font-size="15.7" text-anchor="end" >200</text>
<line x1="1121.7" y1="297.7" x2="1115.4" y2="297.7" stroke="#000" stroke-width="1.35" />
<text x="1107.5" y="303.5" font-size="15.7" text-anchor="end" >400</text>
<line x1="1121.7" y1="215.9" x2="1115.4" y2="215.9" stroke="#000" stroke-width="1.35" />
<text x="1107.5" y="221.7" font-size="15.7" text-anchor="end" >600</text>
<line x1="1121.7" y1="134.1" x2="1115.4" y2="134.1" stroke="#000" stroke-width="1.35" />
<text x="1107.5" y="139.9" font-size="15.7" text-anchor="end" >800</text>
<line x1="1121.7" y1="52.3" x2="1115.4" y2="52.3" stroke="#000" stroke-width="1.35" />
<text x="1107.5" y="58.1" font-size="15.7" text-anchor="end" >1000</text>
<line x1="1801" y1="461.3" x2="1807" y2="461.3" stroke="#000" stroke-width="1.35" />
<text x="1810.5" y="467.1" font-size="15.7" text-anchor="start" >0</text>
<line x1="1801" y1="344.44" x2="1807" y2="344.44" stroke="#000" stroke-width="1.35" />
<text x="1810.5" y="350.24" font-size="15.7" text-anchor="start" >100</text>
<line x1="1801" y1="227.59" x2="1807" y2="227.59" stroke="#000" stroke-width="1.35" />
<text x="1810.5" y="233.39" font-size="15.7" text-anchor="start" >200</text>
<line x1="1801" y1="110.73" x2="1807" y2="110.73" stroke="#000" stroke-width="1.35" />
<text x="1810.5" y="116.53" font-size="15.7" text-anchor="start" >300</text>
<line x1="1801" y1="402.87" x2="1805" y2="402.87" stroke="#000" stroke-width="1.35" />
<line x1="1801" y1="286.01" x2="1805" y2="286.01" stroke="#000" stroke-width="1.35" />
<line x1="1801" y1="169.16" x2="1805" y2="169.16" stroke="#000" stroke-width="1.35" />
<line x1="1801" y1="52.3" x2="1805" y2="52.3" stroke="#000" stroke-width="1.35" />
<line x1="1864" y1="51.62" x2="1864" y2="461.98" stroke="#000" stroke-width="1.35" />
<line x1="1864" y1="444.7" x2="1870.3" y2="444.7" stroke="#000" stroke-width="1.35" />
<text x="1882.8" y="450.5" font-size="15.7" text-anchor="start" >0</text>
<line x1="1864" y1="379.3" x2="1870.3" y2="379.3" stroke="#000" stroke-width="1.35" />
<text x="1882.8" y="385.1" font-size="15.7" text-anchor="start" >2</text>
<line x1="1864" y1="313.9" x2="1870.3" y2="313.9" stroke="#000" stroke-width="1.35" />
<text x="1882.8" y="319.7" font-size="15.7" text-anchor="start" >4</text>
<line x1="1864" y1="248.5" x2="1870.3" y2="248.5" stroke="#000" stroke-width="1.35" />
<text x="1882.8" y="254.3" font-size="15.7" text-anchor="start" >6</text>
<line x1="1864" y1="183.1" x2="1870.3" y2="183.1" stroke="#000" stroke-width="1.35" />
<text x="1882.8" y="188.9" font-size="15.7" text-anchor="start" >8</text>
<line x1="1864" y1="117.7" x2="1870.3" y2="117.7" stroke="#000" stroke-width="1.35" />
<text x="1882.8" y="123.5" font-size="15.7" text-anchor="start" >10</text>
<line x1="1864" y1="52.3" x2="1870.3" y2="52.3" stroke="#000" stroke-width="1.35" />
<text x="1882.8" y="58.1" font-size="15.7" text-anchor="start" >12</text>
<line x1="1290.3" y1="461.3" x2="1290.3" y2="467.5" stroke="#000" stroke-width="1.35" />
<text x="1290.3" y="489.6" font-size="15.7" text-anchor="middle" >0</text>
<line x1="1436.3" y1="461.3" x2="1436.3" y2="467.5" stroke="#000" stroke-width="1.35" />
<text x="1436.3" y="489.6" font-size="15.7" text-anchor="middle" >20</text>
<line x1="1582.3" y1="461.3" x2="1582.3" y2="467.5" stroke="#000" stroke-width="1.35" />
<text x="1582.3" y="489.6" font-size="15.7" text-anchor="middle" >40</text>
<line x1="1728.3" y1="461.3" x2="1728.3" y2="467.5" stroke="#000" stroke-width="1.35" />
<text x="1728.3" y="489.6" font-size="15.7" text-anchor="middle" >60</text>
<text x="1509.3" y="525.1" font-size="19" text-anchor="middle" >t [h]</text>
<text transform="translate(1074.2,171.05) rotate(-90)" font-size="16.2" text-anchor="end"><tspan dy="0">cellobiose [C-mmol L</tspan><tspan dy="-9.56">-1</tspan><tspan dy="9.56">]</tspan></text>
<text transform="translate(1149.2,165.35) rotate(-90)" font-size="16.2" text-anchor="end"><tspan dy="0" font-style="italic">E. aerogenes</tspan><tspan dy="0"> [cells mL</tspan><tspan dy="-9.56">-1</tspan><tspan dy="9.56">]</tspan></text>
<text transform="translate(1852.8,165.35) rotate(-90)" font-size="16.2" text-anchor="end"><tspan dy="0">by-products [C-mmol L</tspan><tspan dy="-9.56">-1</tspan><tspan dy="9.56">]</tspan></text>
<text transform="translate(1915.2,187.85) rotate(-90)" font-size="16.2" text-anchor="end"><tspan dy="0">HER [mmol L</tspan><tspan dy="-9.56">-1</tspan><tspan dy="9.56">h</tspan><tspan dy="-9.56">-1</tspan><tspan dy="9.56">]</tspan></text>
<text transform="translate(1082.25,29.4) scale(1.091,1.045)" font-size="38" style="stroke-width:0.7px">b</text>
<polyline points="285,856.3 396.7,913.7 489,887.7 523.3,815.7 613.3,623.7 743.3,691.7" fill="none" stroke="#111" stroke-width="1.3"/>
<line x1="285" y1="848.7" x2="285" y2="866.3" stroke="#111" stroke-width="1.3" />
<line x1="279.1" y1="848.7" x2="290.9" y2="848.7" stroke="#111" stroke-width="1.3" />
<line x1="279.1" y1="866.3" x2="290.9" y2="866.3" stroke="#111" stroke-width="1.3" />
<line x1="396.7" y1="908.7" x2="396.7" y2="919" stroke="#111" stroke-width="1.3" />
<line x1="390.8" y1="908.7" x2="402.6" y2="908.7" stroke="#111" stroke-width="1.3" />
<line x1="390.8" y1="919" x2="402.6" y2="919" stroke="#111" stroke-width="1.3" />
<line x1="489" y1="870.7" x2="489" y2="916.7" stroke="#111" stroke-width="1.3" />
<line x1="483.1" y1="870.7" x2="494.9" y2="870.7" stroke="#111" stroke-width="1.3" />
<line x1="483.1" y1="916.7" x2="494.9" y2="916.7" stroke="#111" stroke-width="1.3" />
<line x1="523.3" y1="789.7" x2="523.3" y2="887.3" stroke="#111" stroke-width="1.3" />
<line x1="517.4" y1="789.7" x2="529.2" y2="789.7" stroke="#111" stroke-width="1.3" />
<line x1="517.4" y1="887.3" x2="529.2" y2="887.3" stroke="#111" stroke-width="1.3" />
<line x1="613.3" y1="610.7" x2="613.3" y2="642.3" stroke="#111" stroke-width="1.3" />
<line x1="607.4" y1="610.7" x2="619.2" y2="610.7" stroke="#111" stroke-width="1.3" />
<line x1="607.4" y1="642.3" x2="619.2" y2="642.3" stroke="#111" stroke-width="1.3" />
<line x1="743.3" y1="682.7" x2="743.3" y2="702.3" stroke="#111" stroke-width="1.3" />
<line x1="737.4" y1="682.7" x2="749.2" y2="682.7" stroke="#111" stroke-width="1.3" />
<line x1="737.4" y1="702.3" x2="749.2" y2="702.3" stroke="#111" stroke-width="1.3" />
<circle cx="285" cy="856.3" r="4.6" fill="#fff" stroke="#111" stroke-width="1.25"/>
<circle cx="396.7" cy="913.7" r="4.6" fill="#fff" stroke="#111" stroke-width="1.25"/>
<circle cx="489" cy="887.7" r="4.6" fill="#fff" stroke="#111" stroke-width="1.25"/>
<circle cx="523.3" cy="815.7" r="4.6" fill="#fff" stroke="#111" stroke-width="1.25"/>
<circle cx="613.3" cy="623.7" r="4.6" fill="#fff" stroke="#111" stroke-width="1.25"/>
<circle cx="743.3" cy="691.7" r="4.6" fill="#fff" stroke="#111" stroke-width="1.25"/>
<rect x="265.7" y="987.3" width="4.6" height="1" fill="#62b592"/>
<rect x="270.7" y="987" width="4.6" height="1.3" fill="#e8764b"/>
<rect x="281.7" y="986.8" width="4.6" height="1.5" fill="#d670ad"/>
<rect x="297.7" y="987.5" width="4.6" height="0.8" fill="#dcb67c"/>
<line x1="385" y1="983" x2="385" y2="984.5" stroke="#e8764b" stroke-width="1.7" />
<line x1="381.9" y1="983" x2="388.1" y2="983" stroke="#e8764b" stroke-width="1.7" />
<rect x="382.7" y="984" width="4.6" height="4.3" fill="#e8764b"/>
<circle cx="385" cy="978.5" r="1.6" fill="#fff" stroke="#aaa" stroke-width="0.5"/>
<line x1="477.7" y1="983" x2="477.7" y2="984.5" stroke="#e8764b" stroke-width="1.7" />
<line x1="474.6" y1="983" x2="480.8" y2="983" stroke="#e8764b" stroke-width="1.7" />
<rect x="475.4" y="984" width="4.6" height="4.3" fill="#e8764b"/>
<circle cx="477.7" cy="978.5" r="1.6" fill="#fff" stroke="#aaa" stroke-width="0.5"/>
<rect x="486" y="987" width="4.6" height="1.3" fill="#d670ad"/>
<line x1="512" y1="981.5" x2="512" y2="983.2" stroke="#e8764b" stroke-width="1.7" />
<line x1="508.9" y1="981.5" x2="515.1" y2="981.5" stroke="#e8764b" stroke-width="1.7" />
<rect x="509.7" y="982.7" width="4.6" height="5.6" fill="#e8764b"/>
<circle cx="512" cy="977" r="1.6" fill="#fff" stroke="#aaa" stroke-width="0.5"/>
<line x1="522" y1="981.3" x2="522" y2="982.8" stroke="#d670ad" stroke-width="1.7" />
<line x1="518.9" y1="981.3" x2="525.1" y2="981.3" stroke="#d670ad" stroke-width="1.7" />
<rect x="519.7" y="982.3" width="4.6" height="6" fill="#d670ad"/>
<circle cx="522" cy="976.8" r="1.6" fill="#fff" stroke="#aaa" stroke-width="0.5"/>
<rect x="536" y="986.5" width="4.6" height="1.8" fill="#dcb67c"/>
<line x1="596.6" y1="968" x2="596.6" y2="970.2" stroke="#62b592" stroke-width="1.7" />
<line x1="593.5" y1="968" x2="599.7" y2="968" stroke="#62b592" stroke-width="1.7" />
<rect x="594.3" y="969.7" width="4.6" height="18.6" fill="#62b592"/>
<circle cx="596.6" cy="963.5" r="1.6" fill="#fff" stroke="#aaa" stroke-width="0.5"/>
<circle cx="596.6" cy="972.2" r="1.6" fill="none" stroke="#3f8f6e" stroke-width="0.55"/>
<circle cx="596.6" cy="977.35" r="1.6" fill="none" stroke="#3f8f6e" stroke-width="0.55"/>
<line x1="601.9" y1="916.6" x2="601.9" y2="930.3" stroke="#e8764b" stroke-width="1.7" />
<line x1="598.8" y1="916.6" x2="605" y2="916.6" stroke="#e8764b" stroke-width="1.7" />
<rect x="599.6" y="929.8" width="4.6" height="58.5" fill="#e8764b"/>
<circle cx="601.9" cy="912.1" r="1.6" fill="#fff" stroke="#aaa" stroke-width="0.5"/>
<circle cx="601.9" cy="932.3" r="1.6" fill="none" stroke="#b9532c" stroke-width="0.55"/>
<circle cx="601.9" cy="946.8" r="1.6" fill="none" stroke="#b9532c" stroke-width="0.55"/>
<line x1="606.8" y1="982.5" x2="606.8" y2="984.2" stroke="#7b8cc2" stroke-width="1.7" />
<line x1="603.7" y1="982.5" x2="609.9" y2="982.5" stroke="#7b8cc2" stroke-width="1.7" />
<rect x="604.5" y="983.7" width="4.6" height="4.6" fill="#7b8cc2"/>
<circle cx="606.8" cy="978" r="1.6" fill="#fff" stroke="#aaa" stroke-width="0.5"/>
<line x1="612.1" y1="778.9" x2="612.1" y2="798.9" stroke="#d670ad" stroke-width="1.7" />
<line x1="609" y1="778.9" x2="615.2" y2="778.9" stroke="#d670ad" stroke-width="1.7" />
<rect x="609.8" y="798.4" width="4.6" height="189.9" fill="#d670ad"/>
<circle cx="612.1" cy="774.4" r="1.6" fill="#fff" stroke="#aaa" stroke-width="0.5"/>
<circle cx="612.1" cy="800.9" r="1.6" fill="none" stroke="#a84a86" stroke-width="0.55"/>
<circle cx="612.1" cy="815.4" r="1.6" fill="none" stroke="#a84a86" stroke-width="0.55"/>
<rect x="619" y="986" width="4.6" height="2.3" fill="#f6d410"/>
<line x1="628.2" y1="933.8" x2="628.2" y2="938" stroke="#dcb67c" stroke-width="1.7" />
<line x1="625.1" y1="933.8" x2="631.3" y2="933.8" stroke="#dcb67c" stroke-width="1.7" />
<rect x="625.9" y="937.5" width="4.6" height="50.8" fill="#dcb67c"/>
<circle cx="628.2" cy="929.3" r="1.6" fill="#fff" stroke="#aaa" stroke-width="0.5"/>
<circle cx="628.2" cy="940" r="1.6" fill="none" stroke="#a98652" stroke-width="0.55"/>
<circle cx="628.2" cy="953.2" r="1.6" fill="none" stroke="#a98652" stroke-width="0.55"/>
<line x1="726.4" y1="960.2" x2="726.4" y2="963.2" stroke="#62b592" stroke-width="1.7" />
<line x1="723.3" y1="960.2" x2="729.5" y2="960.2" stroke="#62b592" stroke-width="1.7" />
<rect x="724.1" y="962.7" width="4.6" height="25.6" fill="#62b592"/>
<circle cx="726.4" cy="955.7" r="1.6" fill="#fff" stroke="#aaa" stroke-width="0.5"/>
<circle cx="726.4" cy="965.2" r="1.6" fill="none" stroke="#3f8f6e" stroke-width="0.55"/>
<circle cx="726.4" cy="972.1" r="1.6" fill="none" stroke="#3f8f6e" stroke-width="0.55"/>
<line x1="731.4" y1="910" x2="731.4" y2="912.9" stroke="#e8764b" stroke-width="1.7" />
<line x1="728.3" y1="910" x2="734.5" y2="910" stroke="#e8764b" stroke-width="1.7" />
<rect x="729.1" y="912.4" width="4.6" height="75.9" fill="#e8764b"/>
<circle cx="731.4" cy="905.5" r="1.6" fill="#fff" stroke="#aaa" stroke-width="0.5"/>
<circle cx="731.4" cy="914.9" r="1.6" fill="none" stroke="#b9532c" stroke-width="0.55"/>
<circle cx="731.4" cy="929.4" r="1.6" fill="none" stroke="#b9532c" stroke-width="0.55"/>
<line x1="736.5" y1="975" x2="736.5" y2="976.5" stroke="#7b8cc2" stroke-width="1.7" />
<line x1="733.4" y1="975" x2="739.6" y2="975" stroke="#7b8cc2" stroke-width="1.7" />
<rect x="734.2" y="976" width="4.6" height="12.3" fill="#7b8cc2"/>
<circle cx="736.5" cy="970.5" r="1.6" fill="#fff" stroke="#aaa" stroke-width="0.5"/>
<line x1="741.9" y1="776.3" x2="741.9" y2="778" stroke="#d670ad" stroke-width="1.7" />
<line x1="738.8" y1="776.3" x2="745" y2="776.3" stroke="#d670ad" stroke-width="1.7" />
<rect x="739.6" y="777.5" width="4.6" height="210.8" fill="#d670ad"/>
<circle cx="741.9" cy="771.8" r="1.6" fill="#fff" stroke="#aaa" stroke-width="0.5"/>
<circle cx="741.9" cy="780" r="1.6" fill="none" stroke="#a84a86" stroke-width="0.55"/>
<circle cx="741.9" cy="794.5" r="1.6" fill="none" stroke="#a84a86" stroke-width="0.55"/>
<rect x="749" y="985" width="4.6" height="3.3" fill="#f6d410"/>
<line x1="758" y1="917" x2="758" y2="918.5" stroke="#dcb67c" stroke-width="1.7" />
<line x1="754.9" y1="917" x2="761.1" y2="917" stroke="#dcb67c" stroke-width="1.7" />
<rect x="755.7" y="918" width="4.6" height="70.3" fill="#dcb67c"/>
<circle cx="758" cy="912.5" r="1.6" fill="#fff" stroke="#aaa" stroke-width="0.5"/>
<circle cx="758" cy="920.5" r="1.6" fill="none" stroke="#a98652" stroke-width="0.55"/>
<circle cx="758" cy="935" r="1.6" fill="none" stroke="#a98652" stroke-width="0.55"/>
<line x1="275.7" y1="963" x2="294.3" y2="981.6" stroke="#4a4a4a" stroke-width="2.7" stroke-linecap="round"/>
<line x1="275.7" y1="981.6" x2="294.3" y2="963" stroke="#4a4a4a" stroke-width="2.7" stroke-linecap="round"/>
<line x1="387.4" y1="963" x2="406" y2="981.6" stroke="#4a4a4a" stroke-width="2.7" stroke-linecap="round"/>
<line x1="387.4" y1="981.6" x2="406" y2="963" stroke="#4a4a4a" stroke-width="2.7" stroke-linecap="round"/>
<line x1="479.7" y1="963" x2="498.3" y2="981.6" stroke="#4a4a4a" stroke-width="2.7" stroke-linecap="round"/>
<line x1="479.7" y1="981.6" x2="498.3" y2="963" stroke="#4a4a4a" stroke-width="2.7" stroke-linecap="round"/>
<line x1="514" y1="963" x2="532.6" y2="981.6" stroke="#4a4a4a" stroke-width="2.7" stroke-linecap="round"/>
<line x1="514" y1="981.6" x2="532.6" y2="963" stroke="#4a4a4a" stroke-width="2.7" stroke-linecap="round"/>
<line x1="604" y1="673" x2="622.6" y2="691.6" stroke="#4a4a4a" stroke-width="2.7" stroke-linecap="round"/>
<line x1="604" y1="691.6" x2="622.6" y2="673" stroke="#4a4a4a" stroke-width="2.7" stroke-linecap="round"/>
<line x1="733.6" y1="898.2" x2="752.2" y2="916.8" stroke="#4a4a4a" stroke-width="2.7" stroke-linecap="round"/>
<line x1="733.6" y1="916.8" x2="752.2" y2="898.2" stroke="#4a4a4a" stroke-width="2.7" stroke-linecap="round"/>
<polyline points="285,613.4 396.7,617.1 489,612.4 523.3,617.7 613.3,830.4 742.9,899.6" fill="none" stroke="#2a2a78" stroke-width="1.3"/>
<line x1="285" y1="612.5" x2="285" y2="617.5" stroke="#1d1565" stroke-width="1.3" />
<line x1="278.7" y1="612.5" x2="291.3" y2="612.5" stroke="#1d1565" stroke-width="1.3" />
<line x1="278.7" y1="617.5" x2="291.3" y2="617.5" stroke="#1d1565" stroke-width="1.3" />
<line x1="396.7" y1="616" x2="396.7" y2="621" stroke="#1d1565" stroke-width="1.3" />
<line x1="390.4" y1="616" x2="403" y2="616" stroke="#1d1565" stroke-width="1.3" />
<line x1="390.4" y1="621" x2="403" y2="621" stroke="#1d1565" stroke-width="1.3" />
<line x1="489" y1="611.5" x2="489" y2="617" stroke="#1d1565" stroke-width="1.3" />
<line x1="482.7" y1="611.5" x2="495.3" y2="611.5" stroke="#1d1565" stroke-width="1.3" />
<line x1="482.7" y1="617" x2="495.3" y2="617" stroke="#1d1565" stroke-width="1.3" />
<line x1="523.3" y1="617" x2="523.3" y2="622" stroke="#1d1565" stroke-width="1.3" />
<line x1="517" y1="617" x2="529.6" y2="617" stroke="#1d1565" stroke-width="1.3" />
<line x1="517" y1="622" x2="529.6" y2="622" stroke="#1d1565" stroke-width="1.3" />
<line x1="613.3" y1="821.8" x2="613.3" y2="841.1" stroke="#1d1565" stroke-width="1.3" />
<line x1="607" y1="821.8" x2="619.6" y2="821.8" stroke="#1d1565" stroke-width="1.3" />
<line x1="607" y1="841.1" x2="619.6" y2="841.1" stroke="#1d1565" stroke-width="1.3" />
<line x1="742.9" y1="893.5" x2="742.9" y2="908.2" stroke="#1d1565" stroke-width="1.3" />
<line x1="736.6" y1="893.5" x2="749.2" y2="893.5" stroke="#1d1565" stroke-width="1.3" />
<line x1="736.6" y1="908.2" x2="749.2" y2="908.2" stroke="#1d1565" stroke-width="1.3" />
<polygon points="279.35,610 290.65,610 285,620" fill="#1d1565"/>
<polygon points="391.05,613.7 402.35,613.7 396.7,623.7" fill="#1d1565"/>
<polygon points="483.35,609 494.65,609 489,619" fill="#1d1565"/>
<polygon points="517.65,614.3 528.95,614.3 523.3,624.3" fill="#1d1565"/>
<polygon points="607.65,827 618.95,827 613.3,837" fill="#1d1565"/>
<polygon points="737.25,896.2 748.55,896.2 742.9,906.2" fill="#1d1565"/>
<rect x="232" y="579.3" width="583" height="409" fill="none" stroke="#111" stroke-width="1.35"/>
<line x1="232" y1="579.3" x2="225.7" y2="579.3" stroke="#000" stroke-width="1.35" />
<text x="217.9" y="585.1" font-size="15.7" text-anchor="end" >1e+9</text>
<line x1="232" y1="681.55" x2="225.7" y2="681.55" stroke="#000" stroke-width="1.35" />
<text x="217.9" y="687.35" font-size="15.7" text-anchor="end" >1e+8</text>
<line x1="232" y1="783.8" x2="225.7" y2="783.8" stroke="#000" stroke-width="1.35" />
<text x="217.9" y="789.6" font-size="15.7" text-anchor="end" >1e+7</text>
<line x1="232" y1="886.05" x2="225.7" y2="886.05" stroke="#000" stroke-width="1.35" />
<text x="217.9" y="891.85" font-size="15.7" text-anchor="end" >1e+6</text>
<line x1="232" y1="988.3" x2="225.7" y2="988.3" stroke="#000" stroke-width="1.35" />
<text x="217.9" y="994.1" font-size="15.7" text-anchor="end" >1e+5</text>
<line x1="143.6" y1="578.62" x2="143.6" y2="988.97" stroke="#000" stroke-width="1.35" />
<line x1="143.6" y1="988.3" x2="137.3" y2="988.3" stroke="#000" stroke-width="1.35" />
<text x="129.4" y="994.1" font-size="15.7" text-anchor="end" >0</text>
<line x1="143.6" y1="906.5" x2="137.3" y2="906.5" stroke="#000" stroke-width="1.35" />
<text x="129.4" y="912.3" font-size="15.7" text-anchor="end" >200</text>
<line x1="143.6" y1="824.7" x2="137.3" y2="824.7" stroke="#000" stroke-width="1.35" />
<text x="129.4" y="830.5" font-size="15.7" text-anchor="end" >400</text>
<line x1="143.6" y1="742.9" x2="137.3" y2="742.9" stroke="#000" stroke-width="1.35" />
<text x="129.4" y="748.7" font-size="15.7" text-anchor="end" >600</text>
<line x1="143.6" y1="661.1" x2="137.3" y2="661.1" stroke="#000" stroke-width="1.35" />
<text x="129.4" y="666.9" font-size="15.7" text-anchor="end" >800</text>
<line x1="143.6" y1="579.3" x2="137.3" y2="579.3" stroke="#000" stroke-width="1.35" />
<text x="129.4" y="585.1" font-size="15.7" text-anchor="end" >1000</text>
<line x1="815" y1="988.3" x2="821" y2="988.3" stroke="#000" stroke-width="1.35" />
<text x="828.6" y="994.1" font-size="15.7" text-anchor="start" >0</text>
<line x1="815" y1="871.44" x2="821" y2="871.44" stroke="#000" stroke-width="1.35" />
<text x="828.6" y="877.24" font-size="15.7" text-anchor="start" >100</text>
<line x1="815" y1="754.59" x2="821" y2="754.59" stroke="#000" stroke-width="1.35" />
<text x="828.6" y="760.39" font-size="15.7" text-anchor="start" >200</text>
<line x1="815" y1="637.73" x2="821" y2="637.73" stroke="#000" stroke-width="1.35" />
<text x="828.6" y="643.53" font-size="15.7" text-anchor="start" >300</text>
<line x1="815" y1="929.87" x2="819" y2="929.87" stroke="#000" stroke-width="1.35" />
<line x1="815" y1="813.01" x2="819" y2="813.01" stroke="#000" stroke-width="1.35" />
<line x1="815" y1="696.16" x2="819" y2="696.16" stroke="#000" stroke-width="1.35" />
<line x1="815" y1="579.3" x2="819" y2="579.3" stroke="#000" stroke-width="1.35" />
<line x1="884.9" y1="578.62" x2="884.9" y2="988.97" stroke="#000" stroke-width="1.35" />
<line x1="884.9" y1="972" x2="891.2" y2="972" stroke="#000" stroke-width="1.35" />
<text x="903.5" y="977.8" font-size="15.7" text-anchor="start" >0</text>
<line x1="884.9" y1="906.55" x2="891.2" y2="906.55" stroke="#000" stroke-width="1.35" />
<text x="903.5" y="912.35" font-size="15.7" text-anchor="start" >2</text>
<line x1="884.9" y1="841.1" x2="891.2" y2="841.1" stroke="#000" stroke-width="1.35" />
<text x="903.5" y="846.9" font-size="15.7" text-anchor="start" >4</text>
<line x1="884.9" y1="775.65" x2="891.2" y2="775.65" stroke="#000" stroke-width="1.35" />
<text x="903.5" y="781.45" font-size="15.7" text-anchor="start" >6</text>
<line x1="884.9" y1="710.2" x2="891.2" y2="710.2" stroke="#000" stroke-width="1.35" />
<text x="903.5" y="716" font-size="15.7" text-anchor="start" >8</text>
<line x1="884.9" y1="644.75" x2="891.2" y2="644.75" stroke="#000" stroke-width="1.35" />
<text x="903.5" y="650.55" font-size="15.7" text-anchor="start" >10</text>
<line x1="884.9" y1="579.3" x2="891.2" y2="579.3" stroke="#000" stroke-width="1.35" />
<text x="903.5" y="585.1" font-size="15.7" text-anchor="start" >12</text>
<line x1="285" y1="988.3" x2="285" y2="994.5" stroke="#000" stroke-width="1.35" />
<text x="285" y="1016.6" font-size="15.7" text-anchor="middle" >0</text>
<line x1="390.8" y1="988.3" x2="390.8" y2="994.5" stroke="#000" stroke-width="1.35" />
<text x="390.8" y="1016.6" font-size="15.7" text-anchor="middle" >20</text>
<line x1="496.7" y1="988.3" x2="496.7" y2="994.5" stroke="#000" stroke-width="1.35" />
<text x="496.7" y="1016.6" font-size="15.7" text-anchor="middle" >40</text>
<line x1="602.5" y1="988.3" x2="602.5" y2="994.5" stroke="#000" stroke-width="1.35" />
<text x="602.5" y="1016.6" font-size="15.7" text-anchor="middle" >60</text>
<line x1="708.3" y1="988.3" x2="708.3" y2="994.5" stroke="#000" stroke-width="1.35" />
<text x="708.3" y="1016.6" font-size="15.7" text-anchor="middle" >80</text>
<line x1="815" y1="988.3" x2="815" y2="994.5" stroke="#000" stroke-width="1.35" />
<text x="815" y="1016.6" font-size="15.7" text-anchor="middle" >100</text>
<text x="523.3" y="1052.1" font-size="19" text-anchor="middle" >t [h]</text>
<text transform="translate(96.1,706.35) rotate(-90)" font-size="16.2" text-anchor="end"><tspan dy="0">glucose [C-mmol L</tspan><tspan dy="-9.56">-1</tspan><tspan dy="9.56">]</tspan></text>
<text transform="translate(176,675.35) rotate(-90)" font-size="16.2" text-anchor="end"><tspan dy="0" font-style="italic">C. acetobutylicum</tspan><tspan dy="0"> [cells mL</tspan><tspan dy="-9.56">-1</tspan><tspan dy="9.56">]</tspan></text>
<text transform="translate(873.7,692.25) rotate(-90)" font-size="16.2" text-anchor="end"><tspan dy="0">by-products [C-mmol L</tspan><tspan dy="-9.56">-1</tspan><tspan dy="9.56">]</tspan></text>
<text transform="translate(942.8,714.25) rotate(-90)" font-size="16.2" text-anchor="end"><tspan dy="0">HER [mmol L</tspan><tspan dy="-9.56">-1</tspan><tspan dy="9.56">h</tspan><tspan dy="-9.56">-1</tspan><tspan dy="9.56">]</tspan></text>
<text transform="translate(107,555.6) scale(0.944,0.994)" font-size="38" style="stroke-width:0.7px">c</text>
<polyline points="1290.7,742 1459,789.3 1495.3,770.7 1601.3,602 1630.3,619 1761.3,677.3" fill="none" stroke="#111" stroke-width="1.3"/>
<line x1="1290.7" y1="722" x2="1290.7" y2="779" stroke="#111" stroke-width="1.3" />
<line x1="1284.8" y1="722" x2="1296.6" y2="722" stroke="#111" stroke-width="1.3" />
<line x1="1284.8" y1="779" x2="1296.6" y2="779" stroke="#111" stroke-width="1.3" />
<line x1="1459" y1="781.3" x2="1459" y2="799.3" stroke="#111" stroke-width="1.3" />
<line x1="1453.1" y1="781.3" x2="1464.9" y2="781.3" stroke="#111" stroke-width="1.3" />
<line x1="1453.1" y1="799.3" x2="1464.9" y2="799.3" stroke="#111" stroke-width="1.3" />
<line x1="1495.3" y1="745.3" x2="1495.3" y2="835.7" stroke="#111" stroke-width="1.3" />
<line x1="1489.4" y1="745.3" x2="1501.2" y2="745.3" stroke="#111" stroke-width="1.3" />
<line x1="1489.4" y1="835.7" x2="1501.2" y2="835.7" stroke="#111" stroke-width="1.3" />
<line x1="1630.3" y1="611.7" x2="1630.3" y2="627.3" stroke="#111" stroke-width="1.3" />
<line x1="1624.4" y1="611.7" x2="1636.2" y2="611.7" stroke="#111" stroke-width="1.3" />
<line x1="1624.4" y1="627.3" x2="1636.2" y2="627.3" stroke="#111" stroke-width="1.3" />
<line x1="1761.3" y1="668.7" x2="1761.3" y2="688.7" stroke="#111" stroke-width="1.3" />
<line x1="1755.4" y1="668.7" x2="1767.2" y2="668.7" stroke="#111" stroke-width="1.3" />
<line x1="1755.4" y1="688.7" x2="1767.2" y2="688.7" stroke="#111" stroke-width="1.3" />
<circle cx="1290.7" cy="742" r="4.6" fill="#fff" stroke="#111" stroke-width="1.25"/>
<circle cx="1459" cy="789.3" r="4.6" fill="#fff" stroke="#111" stroke-width="1.25"/>
<circle cx="1495.3" cy="770.7" r="4.6" fill="#fff" stroke="#111" stroke-width="1.25"/>
<circle cx="1601.3" cy="602" r="4.6" fill="#fff" stroke="#111" stroke-width="1.25"/>
<circle cx="1630.3" cy="619" r="4.6" fill="#fff" stroke="#111" stroke-width="1.25"/>
<circle cx="1761.3" cy="677.3" r="4.6" fill="#fff" stroke="#111" stroke-width="1.25"/>
<line x1="1459" y1="982" x2="1459" y2="983.8" stroke="#d670ad" stroke-width="1.7" />
<line x1="1455.9" y1="982" x2="1462.1" y2="982" stroke="#d670ad" stroke-width="1.7" />
<rect x="1456.75" y="983.3" width="4.5" height="6.4" fill="#d670ad"/>
<circle cx="1459" cy="977.5" r="1.6" fill="#fff" stroke="#aaa" stroke-width="0.5"/>
<line x1="1471" y1="986" x2="1471" y2="987.5" stroke="#dcb67c" stroke-width="1.7" />
<line x1="1467.9" y1="986" x2="1474.1" y2="986" stroke="#dcb67c" stroke-width="1.7" />
<rect x="1468.75" y="987" width="4.5" height="2.7" fill="#dcb67c"/>
<circle cx="1471" cy="981.5" r="1.6" fill="#fff" stroke="#aaa" stroke-width="0.5"/>
<line x1="1495.3" y1="974" x2="1495.3" y2="976.5" stroke="#d670ad" stroke-width="1.7" />
<line x1="1492.2" y1="974" x2="1498.4" y2="974" stroke="#d670ad" stroke-width="1.7" />
<rect x="1493.05" y="976" width="4.5" height="13.7" fill="#d670ad"/>
<circle cx="1495.3" cy="969.5" r="1.6" fill="#fff" stroke="#aaa" stroke-width="0.5"/>
<line x1="1507.7" y1="985" x2="1507.7" y2="986.2" stroke="#dcb67c" stroke-width="1.7" />
<line x1="1504.6" y1="985" x2="1510.8" y2="985" stroke="#dcb67c" stroke-width="1.7" />
<rect x="1505.45" y="985.7" width="4.5" height="4" fill="#dcb67c"/>
<circle cx="1507.7" cy="980.5" r="1.6" fill="#fff" stroke="#aaa" stroke-width="0.5"/>
<line x1="1587.7" y1="973" x2="1587.7" y2="975.5" stroke="#62b592" stroke-width="1.7" />
<line x1="1584.6" y1="973" x2="1590.8" y2="973" stroke="#62b592" stroke-width="1.7" />
<rect x="1585.45" y="975" width="4.5" height="14.7" fill="#62b592"/>
<circle cx="1587.7" cy="968.5" r="1.6" fill="#fff" stroke="#aaa" stroke-width="0.5"/>
<circle cx="1587.7" cy="977.5" r="1.6" fill="none" stroke="#3f8f6e" stroke-width="0.55"/>
<circle cx="1587.7" cy="981.67" r="1.6" fill="none" stroke="#3f8f6e" stroke-width="0.55"/>
<line x1="1592.5" y1="941.7" x2="1592.5" y2="943.7" stroke="#e8764b" stroke-width="1.7" />
<line x1="1589.4" y1="941.7" x2="1595.6" y2="941.7" stroke="#e8764b" stroke-width="1.7" />
<rect x="1590.25" y="943.2" width="4.5" height="46.5" fill="#e8764b"/>
<circle cx="1592.5" cy="937.2" r="1.6" fill="#fff" stroke="#aaa" stroke-width="0.5"/>
<circle cx="1592.5" cy="945.7" r="1.6" fill="none" stroke="#b9532c" stroke-width="0.55"/>
<circle cx="1592.5" cy="957.83" r="1.6" fill="none" stroke="#b9532c" stroke-width="0.55"/>
<rect x="1594.05" y="985.7" width="4.5" height="4" fill="#7b8cc2"/>
<line x1="1600.8" y1="787.4" x2="1600.8" y2="793.7" stroke="#d670ad" stroke-width="1.7" />
<line x1="1597.7" y1="787.4" x2="1603.9" y2="787.4" stroke="#d670ad" stroke-width="1.7" />
<rect x="1598.55" y="793.2" width="4.5" height="196.5" fill="#d670ad"/>
<circle cx="1600.8" cy="782.9" r="1.6" fill="#fff" stroke="#aaa" stroke-width="0.5"/>
<circle cx="1600.8" cy="795.7" r="1.6" fill="none" stroke="#a84a86" stroke-width="0.55"/>
<circle cx="1600.8" cy="810.2" r="1.6" fill="none" stroke="#a84a86" stroke-width="0.55"/>
<rect x="1606.45" y="987.7" width="4.5" height="2" fill="#f6d410"/>
<line x1="1613.2" y1="933" x2="1613.2" y2="935.5" stroke="#dcb67c" stroke-width="1.7" />
<line x1="1610.1" y1="933" x2="1616.3" y2="933" stroke="#dcb67c" stroke-width="1.7" />
<rect x="1610.95" y="935" width="4.5" height="54.7" fill="#dcb67c"/>
<circle cx="1613.2" cy="928.5" r="1.6" fill="#fff" stroke="#aaa" stroke-width="0.5"/>
<circle cx="1613.2" cy="937.5" r="1.6" fill="none" stroke="#a98652" stroke-width="0.55"/>
<circle cx="1613.2" cy="951.67" r="1.6" fill="none" stroke="#a98652" stroke-width="0.55"/>
<line x1="1617.2" y1="973" x2="1617.2" y2="975.5" stroke="#62b592" stroke-width="1.7" />
<line x1="1614.1" y1="973" x2="1620.3" y2="973" stroke="#62b592" stroke-width="1.7" />
<rect x="1614.95" y="975" width="4.5" height="14.7" fill="#62b592"/>
<circle cx="1617.2" cy="968.5" r="1.6" fill="#fff" stroke="#aaa" stroke-width="0.5"/>
<circle cx="1617.2" cy="977.5" r="1.6" fill="none" stroke="#3f8f6e" stroke-width="0.55"/>
<circle cx="1617.2" cy="981.67" r="1.6" fill="none" stroke="#3f8f6e" stroke-width="0.55"/>
<line x1="1621.9" y1="938.6" x2="1621.9" y2="940.5" stroke="#e8764b" stroke-width="1.7" />
<line x1="1618.8" y1="938.6" x2="1625" y2="938.6" stroke="#e8764b" stroke-width="1.7" />
<rect x="1619.65" y="940" width="4.5" height="49.7" fill="#e8764b"/>
<circle cx="1621.9" cy="934.1" r="1.6" fill="#fff" stroke="#aaa" stroke-width="0.5"/>
<circle cx="1621.9" cy="942.5" r="1.6" fill="none" stroke="#b9532c" stroke-width="0.55"/>
<circle cx="1621.9" cy="955.42" r="1.6" fill="none" stroke="#b9532c" stroke-width="0.55"/>
<rect x="1623.45" y="984" width="4.5" height="5.7" fill="#7b8cc2"/>
<line x1="1630" y1="770.7" x2="1630" y2="772.5" stroke="#d670ad" stroke-width="1.7" />
<line x1="1626.9" y1="770.7" x2="1633.1" y2="770.7" stroke="#d670ad" stroke-width="1.7" />
<rect x="1627.75" y="772" width="4.5" height="217.7" fill="#d670ad"/>
<circle cx="1630" cy="766.2" r="1.6" fill="#fff" stroke="#aaa" stroke-width="0.5"/>
<circle cx="1630" cy="774.5" r="1.6" fill="none" stroke="#a84a86" stroke-width="0.55"/>
<circle cx="1630" cy="789" r="1.6" fill="none" stroke="#a84a86" stroke-width="0.55"/>
<rect x="1636.05" y="987.5" width="4.5" height="2.2" fill="#f6d410"/>
<line x1="1642.5" y1="926.5" x2="1642.5" y2="928.8" stroke="#dcb67c" stroke-width="1.7" />
<line x1="1639.4" y1="926.5" x2="1645.6" y2="926.5" stroke="#dcb67c" stroke-width="1.7" />
<rect x="1640.25" y="928.3" width="4.5" height="61.4" fill="#dcb67c"/>
<circle cx="1642.5" cy="922" r="1.6" fill="#fff" stroke="#aaa" stroke-width="0.5"/>
<circle cx="1642.5" cy="930.8" r="1.6" fill="none" stroke="#a98652" stroke-width="0.55"/>
<circle cx="1642.5" cy="945.3" r="1.6" fill="none" stroke="#a98652" stroke-width="0.55"/>
<rect x="1746.05" y="986" width="4.5" height="3.7" fill="#62b592"/>
<line x1="1752.9" y1="935.3" x2="1752.9" y2="937.5" stroke="#e8764b" stroke-width="1.7" />
<line x1="1749.8" y1="935.3" x2="1756" y2="935.3" stroke="#e8764b" stroke-width="1.7" />
<rect x="1750.65" y="937" width="4.5" height="52.7" fill="#e8764b"/>
<circle cx="1752.9" cy="930.8" r="1.6" fill="#fff" stroke="#aaa" stroke-width="0.5"/>
<circle cx="1752.9" cy="939.5" r="1.6" fill="none" stroke="#b9532c" stroke-width="0.55"/>
<circle cx="1752.9" cy="953.17" r="1.6" fill="none" stroke="#b9532c" stroke-width="0.55"/>
<line x1="1757" y1="972" x2="1757" y2="973.8" stroke="#7b8cc2" stroke-width="1.7" />
<line x1="1753.9" y1="972" x2="1760.1" y2="972" stroke="#7b8cc2" stroke-width="1.7" />
<rect x="1754.75" y="973.3" width="4.5" height="16.4" fill="#7b8cc2"/>
<circle cx="1757" cy="967.5" r="1.6" fill="#fff" stroke="#aaa" stroke-width="0.5"/>
<circle cx="1757" cy="975.8" r="1.6" fill="none" stroke="#4f5f9a" stroke-width="0.55"/>
<circle cx="1757" cy="980.4" r="1.6" fill="none" stroke="#4f5f9a" stroke-width="0.55"/>
<line x1="1761.5" y1="746" x2="1761.5" y2="757.2" stroke="#d670ad" stroke-width="1.7" />
<line x1="1758.4" y1="746" x2="1764.6" y2="746" stroke="#d670ad" stroke-width="1.7" />
<rect x="1759.25" y="756.7" width="4.5" height="233" fill="#d670ad"/>
<circle cx="1761.5" cy="741.5" r="1.6" fill="#fff" stroke="#aaa" stroke-width="0.5"/>
<circle cx="1761.5" cy="759.2" r="1.6" fill="none" stroke="#a84a86" stroke-width="0.55"/>
<circle cx="1761.5" cy="773.7" r="1.6" fill="none" stroke="#a84a86" stroke-width="0.55"/>
<rect x="1763.05" y="987.5" width="4.5" height="2.2" fill="#98ca3c"/>
<rect x="1767.05" y="986.7" width="4.5" height="3" fill="#f6d410"/>
<line x1="1773.8" y1="915" x2="1773.8" y2="917.2" stroke="#dcb67c" stroke-width="1.7" />
<line x1="1770.7" y1="915" x2="1776.9" y2="915" stroke="#dcb67c" stroke-width="1.7" />
<rect x="1771.55" y="916.7" width="4.5" height="73" fill="#dcb67c"/>
<circle cx="1773.8" cy="910.5" r="1.6" fill="#fff" stroke="#aaa" stroke-width="0.5"/>
<circle cx="1773.8" cy="919.2" r="1.6" fill="none" stroke="#a98652" stroke-width="0.55"/>
<circle cx="1773.8" cy="933.7" r="1.6" fill="none" stroke="#a98652" stroke-width="0.55"/>
<line x1="1281.4" y1="964" x2="1300" y2="982.6" stroke="#4a4a4a" stroke-width="2.7" stroke-linecap="round"/>
<line x1="1281.4" y1="982.6" x2="1300" y2="964" stroke="#4a4a4a" stroke-width="2.7" stroke-linecap="round"/>
<line x1="1449.7" y1="964" x2="1468.3" y2="982.6" stroke="#4a4a4a" stroke-width="2.7" stroke-linecap="round"/>
<line x1="1449.7" y1="982.6" x2="1468.3" y2="964" stroke="#4a4a4a" stroke-width="2.7" stroke-linecap="round"/>
<line x1="1486" y1="960" x2="1504.6" y2="978.6" stroke="#4a4a4a" stroke-width="2.7" stroke-linecap="round"/>
<line x1="1486" y1="978.6" x2="1504.6" y2="960" stroke="#4a4a4a" stroke-width="2.7" stroke-linecap="round"/>
<line x1="1592" y1="651.4" x2="1610.6" y2="670" stroke="#4a4a4a" stroke-width="2.7" stroke-linecap="round"/>
<line x1="1592" y1="670" x2="1610.6" y2="651.4" stroke="#4a4a4a" stroke-width="2.7" stroke-linecap="round"/>
<line x1="1621" y1="790.7" x2="1639.6" y2="809.3" stroke="#4a4a4a" stroke-width="2.7" stroke-linecap="round"/>
<line x1="1621" y1="809.3" x2="1639.6" y2="790.7" stroke="#4a4a4a" stroke-width="2.7" stroke-linecap="round"/>
<line x1="1752" y1="904" x2="1770.6" y2="922.6" stroke="#4a4a4a" stroke-width="2.7" stroke-linecap="round"/>
<line x1="1752" y1="922.6" x2="1770.6" y2="904" stroke="#4a4a4a" stroke-width="2.7" stroke-linecap="round"/>
<polyline points="1290.7,588.4 1459,586.1 1495.3,607.4 1601.3,832.4 1630.3,848.4 1761.3,896.7" fill="none" stroke="#2d8644" stroke-width="1.3"/>
<line x1="1290.7" y1="587" x2="1290.7" y2="594" stroke="#2d8644" stroke-width="1.3" />
<line x1="1284.4" y1="587" x2="1297" y2="587" stroke="#2d8644" stroke-width="1.3" />
<line x1="1284.4" y1="594" x2="1297" y2="594" stroke="#2d8644" stroke-width="1.3" />
<line x1="1459" y1="585" x2="1459" y2="592" stroke="#2d8644" stroke-width="1.3" />
<line x1="1452.7" y1="585" x2="1465.3" y2="585" stroke="#2d8644" stroke-width="1.3" />
<line x1="1452.7" y1="592" x2="1465.3" y2="592" stroke="#2d8644" stroke-width="1.3" />
<line x1="1495.3" y1="606.5" x2="1495.3" y2="611.5" stroke="#2d8644" stroke-width="1.3" />
<line x1="1489" y1="606.5" x2="1501.6" y2="606.5" stroke="#2d8644" stroke-width="1.3" />
<line x1="1489" y1="611.5" x2="1501.6" y2="611.5" stroke="#2d8644" stroke-width="1.3" />
<line x1="1601.3" y1="831" x2="1601.3" y2="837" stroke="#2d8644" stroke-width="1.3" />
<line x1="1595" y1="831" x2="1607.6" y2="831" stroke="#2d8644" stroke-width="1.3" />
<line x1="1595" y1="837" x2="1607.6" y2="837" stroke="#2d8644" stroke-width="1.3" />
<line x1="1630.3" y1="847" x2="1630.3" y2="853" stroke="#2d8644" stroke-width="1.3" />
<line x1="1624" y1="847" x2="1636.6" y2="847" stroke="#2d8644" stroke-width="1.3" />
<line x1="1624" y1="853" x2="1636.6" y2="853" stroke="#2d8644" stroke-width="1.3" />
<line x1="1761.3" y1="888.7" x2="1761.3" y2="908" stroke="#2d8644" stroke-width="1.3" />
<line x1="1755" y1="888.7" x2="1767.6" y2="888.7" stroke="#2d8644" stroke-width="1.3" />
<line x1="1755" y1="908" x2="1767.6" y2="908" stroke="#2d8644" stroke-width="1.3" />
<polygon points="1285.05,585 1296.35,585 1290.7,595" fill="#1e7a35"/>
<polygon points="1453.35,582.7 1464.65,582.7 1459,592.7" fill="#1e7a35"/>
<polygon points="1489.65,604 1500.95,604 1495.3,614" fill="#1e7a35"/>
<polygon points="1595.65,829 1606.95,829 1601.3,839" fill="#1e7a35"/>
<polygon points="1624.65,845 1635.95,845 1630.3,855" fill="#1e7a35"/>
<polygon points="1755.65,893.3 1766.95,893.3 1761.3,903.3" fill="#1e7a35"/>
<rect x="1217.7" y="581.4" width="583.9" height="408.3" fill="none" stroke="#111" stroke-width="1.35"/>
<line x1="1217.7" y1="581.3" x2="1211.4" y2="581.3" stroke="#000" stroke-width="1.35" />
<text x="1203.6" y="587.1" font-size="15.7" text-anchor="end" >1e+9</text>
<line x1="1217.7" y1="683.4" x2="1211.4" y2="683.4" stroke="#000" stroke-width="1.35" />
<text x="1203.6" y="689.2" font-size="15.7" text-anchor="end" >1e+8</text>
<line x1="1217.7" y1="785.5" x2="1211.4" y2="785.5" stroke="#000" stroke-width="1.35" />
<text x="1203.6" y="791.3" font-size="15.7" text-anchor="end" >1e+7</text>
<line x1="1217.7" y1="887.6" x2="1211.4" y2="887.6" stroke="#000" stroke-width="1.35" />
<text x="1203.6" y="893.4" font-size="15.7" text-anchor="end" >1e+6</text>
<line x1="1217.7" y1="989.7" x2="1211.4" y2="989.7" stroke="#000" stroke-width="1.35" />
<text x="1203.6" y="995.5" font-size="15.7" text-anchor="end" >1e+5</text>
<line x1="1128.1" y1="580.73" x2="1128.1" y2="990.38" stroke="#000" stroke-width="1.35" />
<line x1="1128.1" y1="989.7" x2="1121.8" y2="989.7" stroke="#000" stroke-width="1.35" />
<text x="1114" y="995.5" font-size="15.7" text-anchor="end" >0</text>
<line x1="1128.1" y1="908.02" x2="1121.8" y2="908.02" stroke="#000" stroke-width="1.35" />
<text x="1114" y="913.82" font-size="15.7" text-anchor="end" >200</text>
<line x1="1128.1" y1="826.34" x2="1121.8" y2="826.34" stroke="#000" stroke-width="1.35" />
<text x="1114" y="832.14" font-size="15.7" text-anchor="end" >400</text>
<line x1="1128.1" y1="744.66" x2="1121.8" y2="744.66" stroke="#000" stroke-width="1.35" />
<text x="1114" y="750.46" font-size="15.7" text-anchor="end" >600</text>
<line x1="1128.1" y1="662.98" x2="1121.8" y2="662.98" stroke="#000" stroke-width="1.35" />
<text x="1114" y="668.78" font-size="15.7" text-anchor="end" >800</text>
<line x1="1128.1" y1="581.3" x2="1121.8" y2="581.3" stroke="#000" stroke-width="1.35" />
<text x="1114" y="587.1" font-size="15.7" text-anchor="end" >1000</text>
<line x1="1801.6" y1="989.7" x2="1807.6" y2="989.7" stroke="#000" stroke-width="1.35" />
<text x="1814.6" y="995.5" font-size="15.7" text-anchor="start" >0</text>
<line x1="1801.6" y1="873.04" x2="1807.6" y2="873.04" stroke="#000" stroke-width="1.35" />
<text x="1814.6" y="878.84" font-size="15.7" text-anchor="start" >100</text>
<line x1="1801.6" y1="756.39" x2="1807.6" y2="756.39" stroke="#000" stroke-width="1.35" />
<text x="1814.6" y="762.19" font-size="15.7" text-anchor="start" >200</text>
<line x1="1801.6" y1="639.73" x2="1807.6" y2="639.73" stroke="#000" stroke-width="1.35" />
<text x="1814.6" y="645.53" font-size="15.7" text-anchor="start" >300</text>
<line x1="1801.6" y1="931.37" x2="1805.6" y2="931.37" stroke="#000" stroke-width="1.35" />
<line x1="1801.6" y1="814.71" x2="1805.6" y2="814.71" stroke="#000" stroke-width="1.35" />
<line x1="1801.6" y1="698.06" x2="1805.6" y2="698.06" stroke="#000" stroke-width="1.35" />
<line x1="1801.6" y1="581.4" x2="1805.6" y2="581.4" stroke="#000" stroke-width="1.35" />
<line x1="1871.6" y1="580.73" x2="1871.6" y2="990.38" stroke="#000" stroke-width="1.35" />
<line x1="1871.6" y1="973.3" x2="1877.9" y2="973.3" stroke="#000" stroke-width="1.35" />
<text x="1890.2" y="979.1" font-size="15.7" text-anchor="start" >0</text>
<line x1="1871.6" y1="907.97" x2="1877.9" y2="907.97" stroke="#000" stroke-width="1.35" />
<text x="1890.2" y="913.77" font-size="15.7" text-anchor="start" >2</text>
<line x1="1871.6" y1="842.63" x2="1877.9" y2="842.63" stroke="#000" stroke-width="1.35" />
<text x="1890.2" y="848.43" font-size="15.7" text-anchor="start" >4</text>
<line x1="1871.6" y1="777.3" x2="1877.9" y2="777.3" stroke="#000" stroke-width="1.35" />
<text x="1890.2" y="783.1" font-size="15.7" text-anchor="start" >6</text>
<line x1="1871.6" y1="711.97" x2="1877.9" y2="711.97" stroke="#000" stroke-width="1.35" />
<text x="1890.2" y="717.77" font-size="15.7" text-anchor="start" >8</text>
<line x1="1871.6" y1="646.63" x2="1877.9" y2="646.63" stroke="#000" stroke-width="1.35" />
<text x="1890.2" y="652.43" font-size="15.7" text-anchor="start" >10</text>
<line x1="1871.6" y1="581.3" x2="1877.9" y2="581.3" stroke="#000" stroke-width="1.35" />
<text x="1890.2" y="587.1" font-size="15.7" text-anchor="start" >12</text>
<line x1="1290.7" y1="989.7" x2="1290.7" y2="995.9" stroke="#000" stroke-width="1.35" />
<text x="1290.7" y="1018" font-size="15.7" text-anchor="middle" >0</text>
<line x1="1436.7" y1="989.7" x2="1436.7" y2="995.9" stroke="#000" stroke-width="1.35" />
<text x="1436.7" y="1018" font-size="15.7" text-anchor="middle" >20</text>
<line x1="1582.7" y1="989.7" x2="1582.7" y2="995.9" stroke="#000" stroke-width="1.35" />
<text x="1582.7" y="1018" font-size="15.7" text-anchor="middle" >40</text>
<line x1="1728.7" y1="989.7" x2="1728.7" y2="995.9" stroke="#000" stroke-width="1.35" />
<text x="1728.7" y="1018" font-size="15.7" text-anchor="middle" >60</text>
<text x="1509.3" y="1053.5" font-size="19" text-anchor="middle" >t [h]</text>
<text transform="translate(1077.3,699.85) rotate(-90)" font-size="16.2" text-anchor="end"><tspan dy="0">cellobiose [C-mmol L</tspan><tspan dy="-9.56">-1</tspan><tspan dy="9.56">]</tspan></text>
<text transform="translate(1158.6,677.25) rotate(-90)" font-size="16.2" text-anchor="end"><tspan dy="0" font-style="italic">C. acetobutylicum</tspan><tspan dy="0"> [cells mL</tspan><tspan dy="-9.56">-1</tspan><tspan dy="9.56">]</tspan></text>
<text transform="translate(1860.5,694.35) rotate(-90)" font-size="16.2" text-anchor="end"><tspan dy="0">by-products [C-mmol L</tspan><tspan dy="-9.56">-1</tspan><tspan dy="9.56">]</tspan></text>
<text transform="translate(1921,715.95) rotate(-90)" font-size="16.2" text-anchor="end"><tspan dy="0">HER [mmol L</tspan><tspan dy="-9.56">-1</tspan><tspan dy="9.56">h</tspan><tspan dy="-9.56">-1</tspan><tspan dy="9.56">]</tspan></text>
<text transform="translate(1086.75,555.6) scale(1.094,1.056)" font-size="38" style="stroke-width:0.7px">d</text>
<polyline points="312.7,1433.3 430,1271 459,1242 564.3,1174.7 601,1180.7 699.3,1195.7" fill="none" stroke="#111" stroke-width="1.3"/>
<line x1="430" y1="1264" x2="430" y2="1282.3" stroke="#111" stroke-width="1.3" />
<line x1="424.1" y1="1264" x2="435.9" y2="1264" stroke="#111" stroke-width="1.3" />
<line x1="424.1" y1="1282.3" x2="435.9" y2="1282.3" stroke="#111" stroke-width="1.3" />
<line x1="459" y1="1232" x2="459" y2="1269" stroke="#111" stroke-width="1.3" />
<line x1="453.1" y1="1232" x2="464.9" y2="1232" stroke="#111" stroke-width="1.3" />
<line x1="453.1" y1="1269" x2="464.9" y2="1269" stroke="#111" stroke-width="1.3" />
<line x1="564.3" y1="1168.3" x2="564.3" y2="1184" stroke="#111" stroke-width="1.3" />
<line x1="558.4" y1="1168.3" x2="570.2" y2="1168.3" stroke="#111" stroke-width="1.3" />
<line x1="558.4" y1="1184" x2="570.2" y2="1184" stroke="#111" stroke-width="1.3" />
<line x1="601" y1="1167.7" x2="601" y2="1180.7" stroke="#111" stroke-width="1.3" />
<line x1="595.1" y1="1167.7" x2="606.9" y2="1167.7" stroke="#111" stroke-width="1.3" />
<line x1="699.3" y1="1182" x2="699.3" y2="1195.7" stroke="#111" stroke-width="1.3" />
<line x1="693.4" y1="1182" x2="705.2" y2="1182" stroke="#111" stroke-width="1.3" />
<circle cx="312.7" cy="1433.3" r="5.2" fill="#000" stroke="none" stroke-width="0"/>
<circle cx="430" cy="1271" r="5.2" fill="#000" stroke="none" stroke-width="0"/>
<circle cx="459" cy="1242" r="5.2" fill="#000" stroke="none" stroke-width="0"/>
<circle cx="564.3" cy="1174.7" r="5.2" fill="#000" stroke="none" stroke-width="0"/>
<circle cx="601" cy="1180.7" r="5.2" fill="#000" stroke="none" stroke-width="0"/>
<circle cx="699.3" cy="1195.7" r="5.2" fill="#000" stroke="none" stroke-width="0"/>
<polyline points="312.7,1393.3 430,1393.7 459,1406.7 564.4,1370.4 601,1282.3 699.3,1262" fill="none" stroke="#111" stroke-width="1.3"/>
<line x1="430" y1="1389" x2="430" y2="1399" stroke="#111" stroke-width="1.3" />
<line x1="424.1" y1="1389" x2="435.9" y2="1389" stroke="#111" stroke-width="1.3" />
<line x1="424.1" y1="1399" x2="435.9" y2="1399" stroke="#111" stroke-width="1.3" />
<line x1="459" y1="1400" x2="459" y2="1414.3" stroke="#111" stroke-width="1.3" />
<line x1="453.1" y1="1400" x2="464.9" y2="1400" stroke="#111" stroke-width="1.3" />
<line x1="453.1" y1="1414.3" x2="464.9" y2="1414.3" stroke="#111" stroke-width="1.3" />
<line x1="564.4" y1="1358" x2="564.4" y2="1386.3" stroke="#111" stroke-width="1.3" />
<line x1="558.5" y1="1358" x2="570.3" y2="1358" stroke="#111" stroke-width="1.3" />
<line x1="558.5" y1="1386.3" x2="570.3" y2="1386.3" stroke="#111" stroke-width="1.3" />
<line x1="699.3" y1="1230" x2="699.3" y2="1334.3" stroke="#111" stroke-width="1.3" />
<line x1="693.4" y1="1230" x2="705.2" y2="1230" stroke="#111" stroke-width="1.3" />
<line x1="693.4" y1="1334.3" x2="705.2" y2="1334.3" stroke="#111" stroke-width="1.3" />
<circle cx="312.7" cy="1393.3" r="4.6" fill="#fff" stroke="#111" stroke-width="1.25"/>
<circle cx="430" cy="1393.7" r="4.6" fill="#fff" stroke="#111" stroke-width="1.25"/>
<circle cx="459" cy="1406.7" r="4.6" fill="#fff" stroke="#111" stroke-width="1.25"/>
<circle cx="564.4" cy="1370.4" r="4.6" fill="#fff" stroke="#111" stroke-width="1.25"/>
<circle cx="601" cy="1282.3" r="4.6" fill="#fff" stroke="#111" stroke-width="1.25"/>
<circle cx="699.3" cy="1262" r="4.6" fill="#fff" stroke="#111" stroke-width="1.25"/>
<rect x="301.52" y="1523" width="3.95" height="1.3" fill="#62b592"/>
<rect x="305.02" y="1522.8" width="3.95" height="1.5" fill="#e8764b"/>
<rect x="311.02" y="1522.8" width="3.95" height="1.5" fill="#d670ad"/>
<rect x="316.02" y="1522.8" width="3.95" height="1.5" fill="#98ca3c"/>
<rect x="320.52" y="1523" width="3.95" height="1.3" fill="#f6d410"/>
<line x1="432.3" y1="1517" x2="432.3" y2="1520.5" stroke="#d670ad" stroke-width="1.7" />
<line x1="429.2" y1="1517" x2="435.4" y2="1517" stroke="#d670ad" stroke-width="1.7" />
<rect x="430.32" y="1520" width="3.95" height="4.3" fill="#d670ad"/>
<circle cx="432.3" cy="1512.5" r="1.6" fill="#fff" stroke="#aaa" stroke-width="0.5"/>
<rect x="434.02" y="1522.3" width="3.95" height="2" fill="#98ca3c"/>
<line x1="450" y1="1520" x2="450" y2="1522.5" stroke="#62b592" stroke-width="1.7" />
<line x1="446.9" y1="1520" x2="453.1" y2="1520" stroke="#62b592" stroke-width="1.7" />
<rect x="448.02" y="1522" width="3.95" height="2.3" fill="#62b592"/>
<circle cx="450" cy="1515.5" r="1.6" fill="#fff" stroke="#aaa" stroke-width="0.5"/>
<line x1="459.5" y1="1517.5" x2="459.5" y2="1520" stroke="#d670ad" stroke-width="1.7" />
<line x1="456.4" y1="1517.5" x2="462.6" y2="1517.5" stroke="#d670ad" stroke-width="1.7" />
<rect x="457.52" y="1519.5" width="3.95" height="4.8" fill="#d670ad"/>
<circle cx="459.5" cy="1513" r="1.6" fill="#fff" stroke="#aaa" stroke-width="0.5"/>
<line x1="463.5" y1="1518.5" x2="463.5" y2="1521" stroke="#98ca3c" stroke-width="1.7" />
<line x1="460.4" y1="1518.5" x2="466.6" y2="1518.5" stroke="#98ca3c" stroke-width="1.7" />
<rect x="461.52" y="1520.5" width="3.95" height="3.8" fill="#98ca3c"/>
<circle cx="463.5" cy="1514" r="1.6" fill="#fff" stroke="#aaa" stroke-width="0.5"/>
<line x1="555" y1="1478.5" x2="555" y2="1487.2" stroke="#62b592" stroke-width="1.7" />
<line x1="551.9" y1="1478.5" x2="558.1" y2="1478.5" stroke="#62b592" stroke-width="1.7" />
<rect x="553.02" y="1486.7" width="3.95" height="37.6" fill="#62b592"/>
<circle cx="555" cy="1474" r="1.6" fill="#fff" stroke="#aaa" stroke-width="0.5"/>
<circle cx="555" cy="1489.2" r="1.6" fill="none" stroke="#3f8f6e" stroke-width="0.55"/>
<circle cx="555" cy="1499.1" r="1.6" fill="none" stroke="#3f8f6e" stroke-width="0.55"/>
<line x1="558.8" y1="1427.3" x2="558.8" y2="1447" stroke="#e8764b" stroke-width="1.7" />
<line x1="555.7" y1="1427.3" x2="561.9" y2="1427.3" stroke="#e8764b" stroke-width="1.7" />
<rect x="556.82" y="1446.5" width="3.95" height="77.8" fill="#e8764b"/>
<circle cx="558.8" cy="1422.8" r="1.6" fill="#fff" stroke="#aaa" stroke-width="0.5"/>
<circle cx="558.8" cy="1449" r="1.6" fill="none" stroke="#b9532c" stroke-width="0.55"/>
<circle cx="558.8" cy="1463.5" r="1.6" fill="none" stroke="#b9532c" stroke-width="0.55"/>
<rect x="560.02" y="1522.5" width="3.95" height="1.8" fill="#7b8cc2"/>
<line x1="565.9" y1="1484.3" x2="565.9" y2="1486.5" stroke="#d670ad" stroke-width="1.7" />
<line x1="562.8" y1="1484.3" x2="569" y2="1484.3" stroke="#d670ad" stroke-width="1.7" />
<rect x="563.92" y="1486" width="3.95" height="38.3" fill="#d670ad"/>
<circle cx="565.9" cy="1479.8" r="1.6" fill="#fff" stroke="#aaa" stroke-width="0.5"/>
<circle cx="565.9" cy="1488.5" r="1.6" fill="none" stroke="#a84a86" stroke-width="0.55"/>
<circle cx="565.9" cy="1498.58" r="1.6" fill="none" stroke="#a84a86" stroke-width="0.55"/>
<line x1="569.8" y1="1204.3" x2="569.8" y2="1217.2" stroke="#98ca3c" stroke-width="1.7" />
<line x1="566.7" y1="1204.3" x2="572.9" y2="1204.3" stroke="#98ca3c" stroke-width="1.7" />
<rect x="567.82" y="1216.7" width="3.95" height="307.6" fill="#98ca3c"/>
<circle cx="569.8" cy="1199.8" r="1.6" fill="#fff" stroke="#aaa" stroke-width="0.5"/>
<circle cx="569.8" cy="1219.2" r="1.6" fill="none" stroke="#6f9f22" stroke-width="0.55"/>
<circle cx="569.8" cy="1233.7" r="1.6" fill="none" stroke="#6f9f22" stroke-width="0.55"/>
<line x1="573.3" y1="1502.4" x2="573.3" y2="1506.4" stroke="#f6d410" stroke-width="1.7" />
<line x1="570.2" y1="1502.4" x2="576.4" y2="1502.4" stroke="#f6d410" stroke-width="1.7" />
<rect x="571.32" y="1505.9" width="3.95" height="18.4" fill="#f6d410"/>
<circle cx="573.3" cy="1497.9" r="1.6" fill="#fff" stroke="#aaa" stroke-width="0.5"/>
<circle cx="573.3" cy="1508.4" r="1.6" fill="none" stroke="#b89a00" stroke-width="0.55"/>
<circle cx="573.3" cy="1513.5" r="1.6" fill="none" stroke="#b89a00" stroke-width="0.55"/>
<line x1="591.5" y1="1475" x2="591.5" y2="1483.1" stroke="#62b592" stroke-width="1.7" />
<line x1="588.4" y1="1475" x2="594.6" y2="1475" stroke="#62b592" stroke-width="1.7" />
<rect x="589.52" y="1482.6" width="3.95" height="41.7" fill="#62b592"/>
<circle cx="591.5" cy="1470.5" r="1.6" fill="#fff" stroke="#aaa" stroke-width="0.5"/>
<circle cx="591.5" cy="1485.1" r="1.6" fill="none" stroke="#3f8f6e" stroke-width="0.55"/>
<circle cx="591.5" cy="1496.02" r="1.6" fill="none" stroke="#3f8f6e" stroke-width="0.55"/>
<line x1="595.3" y1="1412.5" x2="595.3" y2="1419.6" stroke="#e8764b" stroke-width="1.7" />
<line x1="592.2" y1="1412.5" x2="598.4" y2="1412.5" stroke="#e8764b" stroke-width="1.7" />
<rect x="593.32" y="1419.1" width="3.95" height="105.2" fill="#e8764b"/>
<circle cx="595.3" cy="1408" r="1.6" fill="#fff" stroke="#aaa" stroke-width="0.5"/>
<circle cx="595.3" cy="1421.6" r="1.6" fill="none" stroke="#b9532c" stroke-width="0.55"/>
<circle cx="595.3" cy="1436.1" r="1.6" fill="none" stroke="#b9532c" stroke-width="0.55"/>
<rect x="596.23" y="1522.5" width="3.95" height="1.8" fill="#7b8cc2"/>
<line x1="602.4" y1="1458.1" x2="602.4" y2="1462.7" stroke="#d670ad" stroke-width="1.7" />
<line x1="599.3" y1="1458.1" x2="605.5" y2="1458.1" stroke="#d670ad" stroke-width="1.7" />
<rect x="600.42" y="1462.2" width="3.95" height="62.1" fill="#d670ad"/>
<circle cx="602.4" cy="1453.6" r="1.6" fill="#fff" stroke="#aaa" stroke-width="0.5"/>
<circle cx="602.4" cy="1464.7" r="1.6" fill="none" stroke="#a84a86" stroke-width="0.55"/>
<circle cx="602.4" cy="1479.2" r="1.6" fill="none" stroke="#a84a86" stroke-width="0.55"/>
<line x1="606.1" y1="1196.7" x2="606.1" y2="1203.8" stroke="#98ca3c" stroke-width="1.7" />
<line x1="603" y1="1196.7" x2="609.2" y2="1196.7" stroke="#98ca3c" stroke-width="1.7" />
<rect x="604.12" y="1203.3" width="3.95" height="321" fill="#98ca3c"/>
<circle cx="606.1" cy="1192.2" r="1.6" fill="#fff" stroke="#aaa" stroke-width="0.5"/>
<circle cx="606.1" cy="1205.8" r="1.6" fill="none" stroke="#6f9f22" stroke-width="0.55"/>
<circle cx="606.1" cy="1220.3" r="1.6" fill="none" stroke="#6f9f22" stroke-width="0.55"/>
<line x1="609.7" y1="1507" x2="609.7" y2="1508.7" stroke="#f6d410" stroke-width="1.7" />
<line x1="606.6" y1="1507" x2="612.8" y2="1507" stroke="#f6d410" stroke-width="1.7" />
<rect x="607.73" y="1508.2" width="3.95" height="16.1" fill="#f6d410"/>
<circle cx="609.7" cy="1502.5" r="1.6" fill="#fff" stroke="#aaa" stroke-width="0.5"/>
<circle cx="609.7" cy="1510.7" r="1.6" fill="none" stroke="#b89a00" stroke-width="0.55"/>
<circle cx="609.7" cy="1515.22" r="1.6" fill="none" stroke="#b89a00" stroke-width="0.55"/>
<line x1="689.8" y1="1468" x2="689.8" y2="1480.8" stroke="#62b592" stroke-width="1.7" />
<line x1="686.7" y1="1468" x2="692.9" y2="1468" stroke="#62b592" stroke-width="1.7" />
<rect x="687.82" y="1480.3" width="3.95" height="44" fill="#62b592"/>
<circle cx="689.8" cy="1463.5" r="1.6" fill="#fff" stroke="#aaa" stroke-width="0.5"/>
<circle cx="689.8" cy="1482.8" r="1.6" fill="none" stroke="#3f8f6e" stroke-width="0.55"/>
<circle cx="689.8" cy="1494.3" r="1.6" fill="none" stroke="#3f8f6e" stroke-width="0.55"/>
<line x1="693.8" y1="1404.5" x2="693.8" y2="1414.4" stroke="#e8764b" stroke-width="1.7" />
<line x1="690.7" y1="1404.5" x2="696.9" y2="1404.5" stroke="#e8764b" stroke-width="1.7" />
<rect x="691.82" y="1413.9" width="3.95" height="110.4" fill="#e8764b"/>
<circle cx="693.8" cy="1400" r="1.6" fill="#fff" stroke="#aaa" stroke-width="0.5"/>
<circle cx="693.8" cy="1416.4" r="1.6" fill="none" stroke="#b9532c" stroke-width="0.55"/>
<circle cx="693.8" cy="1430.9" r="1.6" fill="none" stroke="#b9532c" stroke-width="0.55"/>
<rect x="694.73" y="1522.5" width="3.95" height="1.8" fill="#7b8cc2"/>
<line x1="700.5" y1="1414.5" x2="700.5" y2="1428.3" stroke="#d670ad" stroke-width="1.7" />
<line x1="697.4" y1="1414.5" x2="703.6" y2="1414.5" stroke="#d670ad" stroke-width="1.7" />
<rect x="698.52" y="1427.8" width="3.95" height="96.5" fill="#d670ad"/>
<circle cx="700.5" cy="1410" r="1.6" fill="#fff" stroke="#aaa" stroke-width="0.5"/>
<circle cx="700.5" cy="1430.3" r="1.6" fill="none" stroke="#a84a86" stroke-width="0.55"/>
<circle cx="700.5" cy="1444.8" r="1.6" fill="none" stroke="#a84a86" stroke-width="0.55"/>
<line x1="704.3" y1="1230.7" x2="704.3" y2="1240.5" stroke="#98ca3c" stroke-width="1.7" />
<line x1="701.2" y1="1230.7" x2="707.4" y2="1230.7" stroke="#98ca3c" stroke-width="1.7" />
<rect x="702.32" y="1240" width="3.95" height="284.3" fill="#98ca3c"/>
<circle cx="704.3" cy="1226.2" r="1.6" fill="#fff" stroke="#aaa" stroke-width="0.5"/>
<circle cx="704.3" cy="1242.5" r="1.6" fill="none" stroke="#6f9f22" stroke-width="0.55"/>
<circle cx="704.3" cy="1257" r="1.6" fill="none" stroke="#6f9f22" stroke-width="0.55"/>
<line x1="707.9" y1="1507" x2="707.9" y2="1510.5" stroke="#f6d410" stroke-width="1.7" />
<line x1="704.8" y1="1507" x2="711" y2="1507" stroke="#f6d410" stroke-width="1.7" />
<rect x="705.92" y="1510" width="3.95" height="14.3" fill="#f6d410"/>
<circle cx="707.9" cy="1502.5" r="1.6" fill="#fff" stroke="#aaa" stroke-width="0.5"/>
<circle cx="707.9" cy="1512.5" r="1.6" fill="none" stroke="#b89a00" stroke-width="0.55"/>
<circle cx="707.9" cy="1516.58" r="1.6" fill="none" stroke="#b89a00" stroke-width="0.55"/>
<polyline points="312.7,1140.4 430,1143.1 459,1151.1 564.1,1444.3 600.8,1492.6 699,1513.6" fill="none" stroke="#2a2a78" stroke-width="1.3"/>
<line x1="312.7" y1="1140" x2="312.7" y2="1145" stroke="#1d1565" stroke-width="1.3" />
<line x1="306.4" y1="1140" x2="319" y2="1140" stroke="#1d1565" stroke-width="1.3" />
<line x1="306.4" y1="1145" x2="319" y2="1145" stroke="#1d1565" stroke-width="1.3" />
<line x1="430" y1="1142.5" x2="430" y2="1147.5" stroke="#1d1565" stroke-width="1.3" />
<line x1="423.7" y1="1142.5" x2="436.3" y2="1142.5" stroke="#1d1565" stroke-width="1.3" />
<line x1="423.7" y1="1147.5" x2="436.3" y2="1147.5" stroke="#1d1565" stroke-width="1.3" />
<line x1="459" y1="1149.3" x2="459" y2="1155" stroke="#1d1565" stroke-width="1.3" />
<line x1="452.7" y1="1149.3" x2="465.3" y2="1149.3" stroke="#1d1565" stroke-width="1.3" />
<line x1="452.7" y1="1155" x2="465.3" y2="1155" stroke="#1d1565" stroke-width="1.3" />
<line x1="564.1" y1="1440.5" x2="564.1" y2="1450.5" stroke="#1d1565" stroke-width="1.3" />
<line x1="557.8" y1="1440.5" x2="570.4" y2="1440.5" stroke="#1d1565" stroke-width="1.3" />
<line x1="557.8" y1="1450.5" x2="570.4" y2="1450.5" stroke="#1d1565" stroke-width="1.3" />
<line x1="600.8" y1="1486.1" x2="600.8" y2="1499.8" stroke="#1d1565" stroke-width="1.3" />
<line x1="594.5" y1="1486.1" x2="607.1" y2="1486.1" stroke="#1d1565" stroke-width="1.3" />
<line x1="594.5" y1="1499.8" x2="607.1" y2="1499.8" stroke="#1d1565" stroke-width="1.3" />
<line x1="699" y1="1513" x2="699" y2="1520" stroke="#1d1565" stroke-width="1.3" />
<line x1="692.7" y1="1513" x2="705.3" y2="1513" stroke="#1d1565" stroke-width="1.3" />
<line x1="692.7" y1="1520" x2="705.3" y2="1520" stroke="#1d1565" stroke-width="1.3" />
<polygon points="307.05,1137 318.35,1137 312.7,1147" fill="#1d1565"/>
<polygon points="424.35,1139.7 435.65,1139.7 430,1149.7" fill="#1d1565"/>
<polygon points="453.35,1147.7 464.65,1147.7 459,1157.7" fill="#1d1565"/>
<polygon points="558.45,1440.9 569.75,1440.9 564.1,1450.9" fill="#1d1565"/>
<polygon points="595.15,1489.2 606.45,1489.2 600.8,1499.2" fill="#1d1565"/>
<polygon points="693.35,1510.2 704.65,1510.2 699,1520.2" fill="#1d1565"/>
<line x1="303.4" y1="1499" x2="322" y2="1517.6" stroke="#4a4a4a" stroke-width="2.7" stroke-linecap="round"/>
<line x1="303.4" y1="1517.6" x2="322" y2="1499" stroke="#4a4a4a" stroke-width="2.7" stroke-linecap="round"/>
<line x1="420.7" y1="1497.4" x2="439.3" y2="1516" stroke="#4a4a4a" stroke-width="2.7" stroke-linecap="round"/>
<line x1="420.7" y1="1516" x2="439.3" y2="1497.4" stroke="#4a4a4a" stroke-width="2.7" stroke-linecap="round"/>
<line x1="449.7" y1="1493" x2="468.3" y2="1511.6" stroke="#4a4a4a" stroke-width="2.7" stroke-linecap="round"/>
<line x1="449.7" y1="1511.6" x2="468.3" y2="1493" stroke="#4a4a4a" stroke-width="2.7" stroke-linecap="round"/>
<line x1="554.8" y1="1441.8" x2="573.4" y2="1460.4" stroke="#4a4a4a" stroke-width="2.7" stroke-linecap="round"/>
<line x1="554.8" y1="1460.4" x2="573.4" y2="1441.8" stroke="#4a4a4a" stroke-width="2.7" stroke-linecap="round"/>
<line x1="591.7" y1="1280.7" x2="610.3" y2="1299.3" stroke="#4a4a4a" stroke-width="2.7" stroke-linecap="round"/>
<line x1="591.7" y1="1299.3" x2="610.3" y2="1280.7" stroke="#4a4a4a" stroke-width="2.7" stroke-linecap="round"/>
<line x1="689.7" y1="1366.5" x2="708.3" y2="1385.1" stroke="#4a4a4a" stroke-width="2.7" stroke-linecap="round"/>
<line x1="689.7" y1="1385.1" x2="708.3" y2="1366.5" stroke="#4a4a4a" stroke-width="2.7" stroke-linecap="round"/>
<rect x="240.3" y="1115.4" width="583" height="408.9" fill="none" stroke="#111" stroke-width="1.35"/>
<line x1="240.3" y1="1127.7" x2="234" y2="1127.7" stroke="#000" stroke-width="1.35" />
<text x="226.2" y="1133.5" font-size="15.7" text-anchor="end" >1e+10</text>
<line x1="240.3" y1="1167.36" x2="234" y2="1167.36" stroke="#000" stroke-width="1.35" />
<text x="226.2" y="1173.16" font-size="15.7" text-anchor="end" >1e+9</text>
<line x1="240.3" y1="1207.02" x2="234" y2="1207.02" stroke="#000" stroke-width="1.35" />
<text x="226.2" y="1212.82" font-size="15.7" text-anchor="end" >1e+8</text>
<line x1="240.3" y1="1246.68" x2="234" y2="1246.68" stroke="#000" stroke-width="1.35" />
<text x="226.2" y="1252.48" font-size="15.7" text-anchor="end" >1e+7</text>
<line x1="240.3" y1="1286.34" x2="234" y2="1286.34" stroke="#000" stroke-width="1.35" />
<text x="226.2" y="1292.14" font-size="15.7" text-anchor="end" >1e+6</text>
<line x1="240.3" y1="1326" x2="234" y2="1326" stroke="#000" stroke-width="1.35" />
<text x="226.2" y="1331.8" font-size="15.7" text-anchor="end" >1e+5</text>
<line x1="240.3" y1="1365.66" x2="234" y2="1365.66" stroke="#000" stroke-width="1.35" />
<text x="226.2" y="1371.46" font-size="15.7" text-anchor="end" >1e+4</text>
<line x1="240.3" y1="1405.32" x2="234" y2="1405.32" stroke="#000" stroke-width="1.35" />
<text x="226.2" y="1411.12" font-size="15.7" text-anchor="end" >1e+3</text>
<line x1="240.3" y1="1444.98" x2="234" y2="1444.98" stroke="#000" stroke-width="1.35" />
<text x="226.2" y="1450.78" font-size="15.7" text-anchor="end" >1e+2</text>
<line x1="240.3" y1="1484.64" x2="234" y2="1484.64" stroke="#000" stroke-width="1.35" />
<text x="226.2" y="1490.44" font-size="15.7" text-anchor="end" >1e+1</text>
<line x1="240.3" y1="1524.3" x2="234" y2="1524.3" stroke="#000" stroke-width="1.35" />
<text x="226.2" y="1530.1" font-size="15.7" text-anchor="end" >1e+0</text>
<line x1="73.4" y1="1114.73" x2="73.4" y2="1524.97" stroke="#000" stroke-width="1.35" />
<line x1="73.4" y1="1524.3" x2="67.1" y2="1524.3" stroke="#000" stroke-width="1.35" />
<text x="59.2" y="1530.1" font-size="15.7" text-anchor="end" >0</text>
<line x1="73.4" y1="1442.44" x2="67.1" y2="1442.44" stroke="#000" stroke-width="1.35" />
<text x="59.2" y="1448.24" font-size="15.7" text-anchor="end" >200</text>
<line x1="73.4" y1="1360.58" x2="67.1" y2="1360.58" stroke="#000" stroke-width="1.35" />
<text x="59.2" y="1366.38" font-size="15.7" text-anchor="end" >400</text>
<line x1="73.4" y1="1278.72" x2="67.1" y2="1278.72" stroke="#000" stroke-width="1.35" />
<text x="59.2" y="1284.52" font-size="15.7" text-anchor="end" >600</text>
<line x1="73.4" y1="1196.86" x2="67.1" y2="1196.86" stroke="#000" stroke-width="1.35" />
<text x="59.2" y="1202.66" font-size="15.7" text-anchor="end" >800</text>
<line x1="73.4" y1="1115" x2="67.1" y2="1115" stroke="#000" stroke-width="1.35" />
<text x="59.2" y="1120.8" font-size="15.7" text-anchor="end" >1000</text>
<line x1="152.5" y1="1114.73" x2="152.5" y2="1524.97" stroke="#000" stroke-width="1.35" />
<line x1="152.5" y1="1115" x2="146.2" y2="1115" stroke="#000" stroke-width="1.35" />
<text x="138.3" y="1120.8" font-size="15.7" text-anchor="end" >1e+9</text>
<line x1="152.5" y1="1251.43" x2="146.2" y2="1251.43" stroke="#000" stroke-width="1.35" />
<text x="138.3" y="1257.23" font-size="15.7" text-anchor="end" >1e+8</text>
<line x1="152.5" y1="1387.87" x2="146.2" y2="1387.87" stroke="#000" stroke-width="1.35" />
<text x="138.3" y="1393.67" font-size="15.7" text-anchor="end" >1e+7</text>
<line x1="152.5" y1="1524.3" x2="146.2" y2="1524.3" stroke="#000" stroke-width="1.35" />
<text x="138.3" y="1530.1" font-size="15.7" text-anchor="end" >1e+6</text>
<line x1="823.3" y1="1524.3" x2="829.3" y2="1524.3" stroke="#000" stroke-width="1.35" />
<text x="836.6" y="1530.1" font-size="15.7" text-anchor="start" >0</text>
<line x1="823.3" y1="1407.47" x2="829.3" y2="1407.47" stroke="#000" stroke-width="1.35" />
<text x="836.6" y="1413.27" font-size="15.7" text-anchor="start" >100</text>
<line x1="823.3" y1="1290.64" x2="829.3" y2="1290.64" stroke="#000" stroke-width="1.35" />
<text x="836.6" y="1296.44" font-size="15.7" text-anchor="start" >200</text>
<line x1="823.3" y1="1173.81" x2="829.3" y2="1173.81" stroke="#000" stroke-width="1.35" />
<text x="836.6" y="1179.61" font-size="15.7" text-anchor="start" >300</text>
<line x1="823.3" y1="1465.89" x2="827.3" y2="1465.89" stroke="#000" stroke-width="1.35" />
<line x1="823.3" y1="1349.06" x2="827.3" y2="1349.06" stroke="#000" stroke-width="1.35" />
<line x1="823.3" y1="1232.23" x2="827.3" y2="1232.23" stroke="#000" stroke-width="1.35" />
<line x1="823.3" y1="1115.4" x2="827.3" y2="1115.4" stroke="#000" stroke-width="1.35" />
<line x1="891.3" y1="1114.73" x2="891.3" y2="1524.97" stroke="#000" stroke-width="1.35" />
<line x1="891.3" y1="1508.3" x2="897.6" y2="1508.3" stroke="#000" stroke-width="1.35" />
<text x="910.2" y="1514.1" font-size="15.7" text-anchor="start" >0</text>
<line x1="891.3" y1="1442.75" x2="897.6" y2="1442.75" stroke="#000" stroke-width="1.35" />
<text x="910.2" y="1448.55" font-size="15.7" text-anchor="start" >2</text>
<line x1="891.3" y1="1377.2" x2="897.6" y2="1377.2" stroke="#000" stroke-width="1.35" />
<text x="910.2" y="1383" font-size="15.7" text-anchor="start" >4</text>
<line x1="891.3" y1="1311.65" x2="897.6" y2="1311.65" stroke="#000" stroke-width="1.35" />
<text x="910.2" y="1317.45" font-size="15.7" text-anchor="start" >6</text>
<line x1="891.3" y1="1246.1" x2="897.6" y2="1246.1" stroke="#000" stroke-width="1.35" />
<text x="910.2" y="1251.9" font-size="15.7" text-anchor="start" >8</text>
<line x1="891.3" y1="1180.55" x2="897.6" y2="1180.55" stroke="#000" stroke-width="1.35" />
<text x="910.2" y="1186.35" font-size="15.7" text-anchor="start" >10</text>
<line x1="891.3" y1="1115" x2="897.6" y2="1115" stroke="#000" stroke-width="1.35" />
<text x="910.2" y="1120.8" font-size="15.7" text-anchor="start" >12</text>
<line x1="312.7" y1="1524.3" x2="312.7" y2="1530.5" stroke="#000" stroke-width="1.35" />
<text x="312.7" y="1552.6" font-size="15.7" text-anchor="middle" >0</text>
<line x1="458.6" y1="1524.3" x2="458.6" y2="1530.5" stroke="#000" stroke-width="1.35" />
<text x="458.6" y="1552.6" font-size="15.7" text-anchor="middle" >20</text>
<line x1="604.4" y1="1524.3" x2="604.4" y2="1530.5" stroke="#000" stroke-width="1.35" />
<text x="604.4" y="1552.6" font-size="15.7" text-anchor="middle" >40</text>
<line x1="750.2" y1="1524.3" x2="750.2" y2="1530.5" stroke="#000" stroke-width="1.35" />
<text x="750.2" y="1552.6" font-size="15.7" text-anchor="middle" >60</text>
<text x="531.7" y="1588.1" font-size="19" text-anchor="middle" >t [h]</text>
<text transform="translate(22.2,1242.15) rotate(-90)" font-size="16.2" text-anchor="end"><tspan dy="0">glucose [C-mmol L</tspan><tspan dy="-9.56">-1</tspan><tspan dy="9.56">]</tspan></text>
<text transform="translate(97.4,1211.75) rotate(-90)" font-size="16.2" text-anchor="end"><tspan dy="0" font-style="italic">C. acetobutylicum</tspan><tspan dy="0"> [cells mL</tspan><tspan dy="-9.56">-1</tspan><tspan dy="9.56">]</tspan></text>
<text transform="translate(174.7,1228.45) rotate(-90)" font-size="16.2" text-anchor="end"><tspan dy="0" font-style="italic">E. aerogenes</tspan><tspan dy="0"> [cells mL</tspan><tspan dy="-9.56">-1</tspan><tspan dy="9.56">]</tspan></text>
<text transform="translate(879.2,1228.25) rotate(-90)" font-size="16.2" text-anchor="end"><tspan dy="0">by-products [C-mmol L</tspan><tspan dy="-9.56">-1</tspan><tspan dy="9.56">]</tspan></text>
<text transform="translate(951.3,1249.95) rotate(-90)" font-size="16.2" text-anchor="end"><tspan dy="0">HER [mmol L</tspan><tspan dy="-9.56">-1</tspan><tspan dy="9.56">h</tspan><tspan dy="-9.56">-1</tspan><tspan dy="9.56">]</tspan></text>
<text transform="translate(106.9,1094.3) scale(0.98,1.008)" font-size="38" style="stroke-width:0.7px">e</text>
<polyline points="1292.7,1429.7 1417,1296.3 1457,1237 1580.3,1216.3 1602.7,1217.7 1726.3,1250.3" fill="none" stroke="#111" stroke-width="1.3"/>
<line x1="1417" y1="1288.7" x2="1417" y2="1310.3" stroke="#111" stroke-width="1.3" />
<line x1="1411.1" y1="1288.7" x2="1422.9" y2="1288.7" stroke="#111" stroke-width="1.3" />
<line x1="1411.1" y1="1310.3" x2="1422.9" y2="1310.3" stroke="#111" stroke-width="1.3" />
<line x1="1457" y1="1227.7" x2="1457" y2="1258.7" stroke="#111" stroke-width="1.3" />
<line x1="1451.1" y1="1227.7" x2="1462.9" y2="1227.7" stroke="#111" stroke-width="1.3" />
<line x1="1451.1" y1="1258.7" x2="1462.9" y2="1258.7" stroke="#111" stroke-width="1.3" />
<line x1="1580.3" y1="1202" x2="1580.3" y2="1216.3" stroke="#111" stroke-width="1.3" />
<line x1="1574.4" y1="1202" x2="1586.2" y2="1202" stroke="#111" stroke-width="1.3" />
<line x1="1602.7" y1="1199.3" x2="1602.7" y2="1217.7" stroke="#111" stroke-width="1.3" />
<line x1="1596.8" y1="1199.3" x2="1608.6" y2="1199.3" stroke="#111" stroke-width="1.3" />
<line x1="1726.3" y1="1236.7" x2="1726.3" y2="1250.3" stroke="#111" stroke-width="1.3" />
<line x1="1720.4" y1="1236.7" x2="1732.2" y2="1236.7" stroke="#111" stroke-width="1.3" />
<circle cx="1292.7" cy="1429.7" r="5.2" fill="#000" stroke="none" stroke-width="0"/>
<circle cx="1417" cy="1296.3" r="5.2" fill="#000" stroke="none" stroke-width="0"/>
<circle cx="1457" cy="1237" r="5.2" fill="#000" stroke="none" stroke-width="0"/>
<circle cx="1580.3" cy="1216.3" r="5.2" fill="#000" stroke="none" stroke-width="0"/>
<circle cx="1602.7" cy="1217.7" r="5.2" fill="#000" stroke="none" stroke-width="0"/>
<circle cx="1726.3" cy="1250.3" r="5.2" fill="#000" stroke="none" stroke-width="0"/>
<polyline points="1292.7,1376.3 1417,1385 1457,1308.7 1580.3,1256 1602.7,1227.7 1726.3,1272.7" fill="none" stroke="#111" stroke-width="1.3"/>
<line x1="1417" y1="1360" x2="1417" y2="1430" stroke="#111" stroke-width="1.3" />
<line x1="1411.1" y1="1360" x2="1422.9" y2="1360" stroke="#111" stroke-width="1.3" />
<line x1="1411.1" y1="1430" x2="1422.9" y2="1430" stroke="#111" stroke-width="1.3" />
<line x1="1457" y1="1272.7" x2="1457" y2="1420" stroke="#111" stroke-width="1.3" />
<line x1="1451.1" y1="1272.7" x2="1462.9" y2="1272.7" stroke="#111" stroke-width="1.3" />
<line x1="1451.1" y1="1420" x2="1462.9" y2="1420" stroke="#111" stroke-width="1.3" />
<line x1="1580.3" y1="1237" x2="1580.3" y2="1284.7" stroke="#111" stroke-width="1.3" />
<line x1="1574.4" y1="1237" x2="1586.2" y2="1237" stroke="#111" stroke-width="1.3" />
<line x1="1574.4" y1="1284.7" x2="1586.2" y2="1284.7" stroke="#111" stroke-width="1.3" />
<line x1="1602.7" y1="1204" x2="1602.7" y2="1286" stroke="#111" stroke-width="1.3" />
<line x1="1596.8" y1="1204" x2="1608.6" y2="1204" stroke="#111" stroke-width="1.3" />
<line x1="1596.8" y1="1286" x2="1608.6" y2="1286" stroke="#111" stroke-width="1.3" />
<line x1="1726.3" y1="1272.7" x2="1726.3" y2="1317" stroke="#111" stroke-width="1.3" />
<line x1="1720.4" y1="1317" x2="1732.2" y2="1317" stroke="#111" stroke-width="1.3" />
<circle cx="1292.7" cy="1376.3" r="4.6" fill="#fff" stroke="#111" stroke-width="1.25"/>
<circle cx="1417" cy="1385" r="4.6" fill="#fff" stroke="#111" stroke-width="1.25"/>
<circle cx="1457" cy="1308.7" r="4.6" fill="#fff" stroke="#111" stroke-width="1.25"/>
<circle cx="1580.3" cy="1256" r="4.6" fill="#fff" stroke="#111" stroke-width="1.25"/>
<circle cx="1602.7" cy="1227.7" r="4.6" fill="#fff" stroke="#111" stroke-width="1.25"/>
<circle cx="1726.3" cy="1272.7" r="4.6" fill="#fff" stroke="#111" stroke-width="1.25"/>
<line x1="1406.8" y1="1511" x2="1406.8" y2="1513.2" stroke="#62b592" stroke-width="1.7" />
<line x1="1403.7" y1="1511" x2="1409.9" y2="1511" stroke="#62b592" stroke-width="1.7" />
<rect x="1404.88" y="1512.7" width="3.85" height="8.6" fill="#62b592"/>
<circle cx="1406.8" cy="1506.5" r="1.6" fill="#fff" stroke="#aaa" stroke-width="0.5"/>
<line x1="1416.7" y1="1511" x2="1416.7" y2="1513.2" stroke="#d670ad" stroke-width="1.7" />
<line x1="1413.6" y1="1511" x2="1419.8" y2="1511" stroke="#d670ad" stroke-width="1.7" />
<rect x="1414.78" y="1512.7" width="3.85" height="8.6" fill="#d670ad"/>
<circle cx="1416.7" cy="1506.5" r="1.6" fill="#fff" stroke="#aaa" stroke-width="0.5"/>
<rect x="1418.08" y="1518" width="3.85" height="3.3" fill="#98ca3c"/>
<rect x="1423.38" y="1517.3" width="3.85" height="4" fill="#dcb67c"/>
<line x1="1446.7" y1="1514.5" x2="1446.7" y2="1516.5" stroke="#62b592" stroke-width="1.7" />
<line x1="1443.6" y1="1514.5" x2="1449.8" y2="1514.5" stroke="#62b592" stroke-width="1.7" />
<rect x="1444.78" y="1516" width="3.85" height="5.3" fill="#62b592"/>
<circle cx="1446.7" cy="1510" r="1.6" fill="#fff" stroke="#aaa" stroke-width="0.5"/>
<line x1="1450.3" y1="1514" x2="1450.3" y2="1515.8" stroke="#e8764b" stroke-width="1.7" />
<line x1="1447.2" y1="1514" x2="1453.4" y2="1514" stroke="#e8764b" stroke-width="1.7" />
<rect x="1448.38" y="1515.3" width="3.85" height="6" fill="#e8764b"/>
<circle cx="1450.3" cy="1509.5" r="1.6" fill="#fff" stroke="#aaa" stroke-width="0.5"/>
<line x1="1456.8" y1="1497.3" x2="1456.8" y2="1505.5" stroke="#d670ad" stroke-width="1.7" />
<line x1="1453.7" y1="1497.3" x2="1459.9" y2="1497.3" stroke="#d670ad" stroke-width="1.7" />
<rect x="1454.88" y="1505" width="3.85" height="16.3" fill="#d670ad"/>
<circle cx="1456.8" cy="1492.8" r="1.6" fill="#fff" stroke="#aaa" stroke-width="0.5"/>
<circle cx="1456.8" cy="1507.5" r="1.6" fill="none" stroke="#a84a86" stroke-width="0.55"/>
<circle cx="1456.8" cy="1512.08" r="1.6" fill="none" stroke="#a84a86" stroke-width="0.55"/>
<line x1="1460.5" y1="1507" x2="1460.5" y2="1509.8" stroke="#98ca3c" stroke-width="1.7" />
<line x1="1457.4" y1="1507" x2="1463.6" y2="1507" stroke="#98ca3c" stroke-width="1.7" />
<rect x="1458.58" y="1509.3" width="3.85" height="12" fill="#98ca3c"/>
<circle cx="1460.5" cy="1502.5" r="1.6" fill="#fff" stroke="#aaa" stroke-width="0.5"/>
<line x1="1466.2" y1="1501.7" x2="1466.2" y2="1507.2" stroke="#dcb67c" stroke-width="1.7" />
<line x1="1463.1" y1="1501.7" x2="1469.3" y2="1501.7" stroke="#dcb67c" stroke-width="1.7" />
<rect x="1464.28" y="1506.7" width="3.85" height="14.6" fill="#dcb67c"/>
<circle cx="1466.2" cy="1497.2" r="1.6" fill="#fff" stroke="#aaa" stroke-width="0.5"/>
<circle cx="1466.2" cy="1509.2" r="1.6" fill="none" stroke="#a98652" stroke-width="0.55"/>
<circle cx="1466.2" cy="1513.35" r="1.6" fill="none" stroke="#a98652" stroke-width="0.55"/>
<line x1="1570.8" y1="1500" x2="1570.8" y2="1502.2" stroke="#62b592" stroke-width="1.7" />
<line x1="1567.7" y1="1500" x2="1573.9" y2="1500" stroke="#62b592" stroke-width="1.7" />
<rect x="1568.88" y="1501.7" width="3.85" height="19.6" fill="#62b592"/>
<circle cx="1570.8" cy="1495.5" r="1.6" fill="#fff" stroke="#aaa" stroke-width="0.5"/>
<circle cx="1570.8" cy="1504.2" r="1.6" fill="none" stroke="#3f8f6e" stroke-width="0.55"/>
<circle cx="1570.8" cy="1509.6" r="1.6" fill="none" stroke="#3f8f6e" stroke-width="0.55"/>
<line x1="1574.5" y1="1479.3" x2="1574.5" y2="1487.2" stroke="#e8764b" stroke-width="1.7" />
<line x1="1571.4" y1="1479.3" x2="1577.6" y2="1479.3" stroke="#e8764b" stroke-width="1.7" />
<rect x="1572.58" y="1486.7" width="3.85" height="34.6" fill="#e8764b"/>
<circle cx="1574.5" cy="1474.8" r="1.6" fill="#fff" stroke="#aaa" stroke-width="0.5"/>
<circle cx="1574.5" cy="1489.2" r="1.6" fill="none" stroke="#b9532c" stroke-width="0.55"/>
<circle cx="1574.5" cy="1498.35" r="1.6" fill="none" stroke="#b9532c" stroke-width="0.55"/>
<rect x="1575.88" y="1512.7" width="3.85" height="8.6" fill="#7b8cc2"/>
<line x1="1580.5" y1="1316.6" x2="1580.5" y2="1360.5" stroke="#d670ad" stroke-width="1.7" />
<line x1="1577.4" y1="1316.6" x2="1583.6" y2="1316.6" stroke="#d670ad" stroke-width="1.7" />
<rect x="1578.58" y="1360" width="3.85" height="161.3" fill="#d670ad"/>
<circle cx="1580.5" cy="1312.1" r="1.6" fill="#fff" stroke="#aaa" stroke-width="0.5"/>
<circle cx="1580.5" cy="1362.5" r="1.6" fill="none" stroke="#a84a86" stroke-width="0.55"/>
<circle cx="1580.5" cy="1377" r="1.6" fill="none" stroke="#a84a86" stroke-width="0.55"/>
<line x1="1584" y1="1496" x2="1584" y2="1508.8" stroke="#98ca3c" stroke-width="1.7" />
<line x1="1580.9" y1="1496" x2="1587.1" y2="1496" stroke="#98ca3c" stroke-width="1.7" />
<rect x="1582.08" y="1508.3" width="3.85" height="13" fill="#98ca3c"/>
<circle cx="1584" cy="1491.5" r="1.6" fill="#fff" stroke="#aaa" stroke-width="0.5"/>
<line x1="1589.8" y1="1455.7" x2="1589.8" y2="1460.5" stroke="#dcb67c" stroke-width="1.7" />
<line x1="1586.7" y1="1455.7" x2="1592.9" y2="1455.7" stroke="#dcb67c" stroke-width="1.7" />
<rect x="1587.88" y="1460" width="3.85" height="61.3" fill="#dcb67c"/>
<circle cx="1589.8" cy="1451.2" r="1.6" fill="#fff" stroke="#aaa" stroke-width="0.5"/>
<circle cx="1589.8" cy="1462.5" r="1.6" fill="none" stroke="#a98652" stroke-width="0.55"/>
<circle cx="1589.8" cy="1477" r="1.6" fill="none" stroke="#a98652" stroke-width="0.55"/>
<line x1="1593.2" y1="1500" x2="1593.2" y2="1502.2" stroke="#62b592" stroke-width="1.7" />
<line x1="1590.1" y1="1500" x2="1596.3" y2="1500" stroke="#62b592" stroke-width="1.7" />
<rect x="1591.28" y="1501.7" width="3.85" height="19.6" fill="#62b592"/>
<circle cx="1593.2" cy="1495.5" r="1.6" fill="#fff" stroke="#aaa" stroke-width="0.5"/>
<circle cx="1593.2" cy="1504.2" r="1.6" fill="none" stroke="#3f8f6e" stroke-width="0.55"/>
<circle cx="1593.2" cy="1509.6" r="1.6" fill="none" stroke="#3f8f6e" stroke-width="0.55"/>
<line x1="1596.8" y1="1481.7" x2="1596.8" y2="1487.2" stroke="#e8764b" stroke-width="1.7" />
<line x1="1593.7" y1="1481.7" x2="1599.9" y2="1481.7" stroke="#e8764b" stroke-width="1.7" />
<rect x="1594.88" y="1486.7" width="3.85" height="34.6" fill="#e8764b"/>
<circle cx="1596.8" cy="1477.2" r="1.6" fill="#fff" stroke="#aaa" stroke-width="0.5"/>
<circle cx="1596.8" cy="1489.2" r="1.6" fill="none" stroke="#b9532c" stroke-width="0.55"/>
<circle cx="1596.8" cy="1498.35" r="1.6" fill="none" stroke="#b9532c" stroke-width="0.55"/>
<rect x="1598.28" y="1511.7" width="3.85" height="9.6" fill="#7b8cc2"/>
<line x1="1602.8" y1="1312.7" x2="1602.8" y2="1337.2" stroke="#d670ad" stroke-width="1.7" />
<line x1="1599.7" y1="1312.7" x2="1605.9" y2="1312.7" stroke="#d670ad" stroke-width="1.7" />
<rect x="1600.88" y="1336.7" width="3.85" height="184.6" fill="#d670ad"/>
<circle cx="1602.8" cy="1308.2" r="1.6" fill="#fff" stroke="#aaa" stroke-width="0.5"/>
<circle cx="1602.8" cy="1339.2" r="1.6" fill="none" stroke="#a84a86" stroke-width="0.55"/>
<circle cx="1602.8" cy="1353.7" r="1.6" fill="none" stroke="#a84a86" stroke-width="0.55"/>
<line x1="1606.3" y1="1496.7" x2="1606.3" y2="1507.2" stroke="#98ca3c" stroke-width="1.7" />
<line x1="1603.2" y1="1496.7" x2="1609.4" y2="1496.7" stroke="#98ca3c" stroke-width="1.7" />
<rect x="1604.38" y="1506.7" width="3.85" height="14.6" fill="#98ca3c"/>
<circle cx="1606.3" cy="1492.2" r="1.6" fill="#fff" stroke="#aaa" stroke-width="0.5"/>
<circle cx="1606.3" cy="1509.2" r="1.6" fill="none" stroke="#6f9f22" stroke-width="0.55"/>
<circle cx="1606.3" cy="1513.35" r="1.6" fill="none" stroke="#6f9f22" stroke-width="0.55"/>
<line x1="1612.2" y1="1452.7" x2="1612.2" y2="1457.2" stroke="#dcb67c" stroke-width="1.7" />
<line x1="1609.1" y1="1452.7" x2="1615.3" y2="1452.7" stroke="#dcb67c" stroke-width="1.7" />
<rect x="1610.28" y="1456.7" width="3.85" height="64.6" fill="#dcb67c"/>
<circle cx="1612.2" cy="1448.2" r="1.6" fill="#fff" stroke="#aaa" stroke-width="0.5"/>
<circle cx="1612.2" cy="1459.2" r="1.6" fill="none" stroke="#a98652" stroke-width="0.55"/>
<circle cx="1612.2" cy="1473.7" r="1.6" fill="none" stroke="#a98652" stroke-width="0.55"/>
<rect x="1714.78" y="1511.7" width="3.85" height="9.6" fill="#62b592"/>
<line x1="1720" y1="1480.5" x2="1720" y2="1482.2" stroke="#e8764b" stroke-width="1.7" />
<line x1="1716.9" y1="1480.5" x2="1723.1" y2="1480.5" stroke="#e8764b" stroke-width="1.7" />
<rect x="1718.08" y="1481.7" width="3.85" height="39.6" fill="#e8764b"/>
<circle cx="1720" cy="1476" r="1.6" fill="#fff" stroke="#aaa" stroke-width="0.5"/>
<circle cx="1720" cy="1484.2" r="1.6" fill="none" stroke="#b9532c" stroke-width="0.55"/>
<circle cx="1720" cy="1494.6" r="1.6" fill="none" stroke="#b9532c" stroke-width="0.55"/>
<line x1="1723.5" y1="1491" x2="1723.5" y2="1493.8" stroke="#7b8cc2" stroke-width="1.7" />
<line x1="1720.4" y1="1491" x2="1726.6" y2="1491" stroke="#7b8cc2" stroke-width="1.7" />
<rect x="1721.58" y="1493.3" width="3.85" height="28" fill="#7b8cc2"/>
<circle cx="1723.5" cy="1486.5" r="1.6" fill="#fff" stroke="#aaa" stroke-width="0.5"/>
<circle cx="1723.5" cy="1495.8" r="1.6" fill="none" stroke="#4f5f9a" stroke-width="0.55"/>
<circle cx="1723.5" cy="1503.3" r="1.6" fill="none" stroke="#4f5f9a" stroke-width="0.55"/>
<line x1="1726.4" y1="1328" x2="1726.4" y2="1366.5" stroke="#d670ad" stroke-width="1.7" />
<line x1="1723.3" y1="1328" x2="1729.5" y2="1328" stroke="#d670ad" stroke-width="1.7" />
<rect x="1724.48" y="1366" width="3.85" height="155.3" fill="#d670ad"/>
<circle cx="1726.4" cy="1323.5" r="1.6" fill="#fff" stroke="#aaa" stroke-width="0.5"/>
<circle cx="1726.4" cy="1368.5" r="1.6" fill="none" stroke="#a84a86" stroke-width="0.55"/>
<circle cx="1726.4" cy="1383" r="1.6" fill="none" stroke="#a84a86" stroke-width="0.55"/>
<line x1="1730" y1="1496" x2="1730" y2="1510.5" stroke="#98ca3c" stroke-width="1.7" />
<line x1="1726.9" y1="1496" x2="1733.1" y2="1496" stroke="#98ca3c" stroke-width="1.7" />
<rect x="1728.08" y="1510" width="3.85" height="11.3" fill="#98ca3c"/>
<circle cx="1730" cy="1491.5" r="1.6" fill="#fff" stroke="#aaa" stroke-width="0.5"/>
<rect x="1730.58" y="1519.5" width="3.85" height="1.8" fill="#f6d410"/>
<line x1="1736" y1="1451" x2="1736" y2="1453.8" stroke="#dcb67c" stroke-width="1.7" />
<line x1="1732.9" y1="1451" x2="1739.1" y2="1451" stroke="#dcb67c" stroke-width="1.7" />
<rect x="1734.08" y="1453.3" width="3.85" height="68" fill="#dcb67c"/>
<circle cx="1736" cy="1446.5" r="1.6" fill="#fff" stroke="#aaa" stroke-width="0.5"/>
<circle cx="1736" cy="1455.8" r="1.6" fill="none" stroke="#a98652" stroke-width="0.55"/>
<circle cx="1736" cy="1470.3" r="1.6" fill="none" stroke="#a98652" stroke-width="0.55"/>
<polyline points="1292.7,1137.1 1417,1139.4 1457,1158.4 1580.3,1360.7 1602.7,1375.1 1726.3,1429.4" fill="none" stroke="#2d8644" stroke-width="1.3"/>
<line x1="1292.7" y1="1136" x2="1292.7" y2="1142.5" stroke="#2d8644" stroke-width="1.3" />
<line x1="1286.4" y1="1136" x2="1299" y2="1136" stroke="#2d8644" stroke-width="1.3" />
<line x1="1286.4" y1="1142.5" x2="1299" y2="1142.5" stroke="#2d8644" stroke-width="1.3" />
<line x1="1417" y1="1138.5" x2="1417" y2="1144.5" stroke="#2d8644" stroke-width="1.3" />
<line x1="1410.7" y1="1138.5" x2="1423.3" y2="1138.5" stroke="#2d8644" stroke-width="1.3" />
<line x1="1410.7" y1="1144.5" x2="1423.3" y2="1144.5" stroke="#2d8644" stroke-width="1.3" />
<line x1="1457" y1="1150.7" x2="1457" y2="1167.3" stroke="#2d8644" stroke-width="1.3" />
<line x1="1450.7" y1="1150.7" x2="1463.3" y2="1150.7" stroke="#2d8644" stroke-width="1.3" />
<line x1="1450.7" y1="1167.3" x2="1463.3" y2="1167.3" stroke="#2d8644" stroke-width="1.3" />
<line x1="1580.3" y1="1339.3" x2="1580.3" y2="1384" stroke="#2d8644" stroke-width="1.3" />
<line x1="1574" y1="1339.3" x2="1586.6" y2="1339.3" stroke="#2d8644" stroke-width="1.3" />
<line x1="1574" y1="1384" x2="1586.6" y2="1384" stroke="#2d8644" stroke-width="1.3" />
<line x1="1602.7" y1="1368.3" x2="1602.7" y2="1384" stroke="#2d8644" stroke-width="1.3" />
<line x1="1596.4" y1="1368.3" x2="1609" y2="1368.3" stroke="#2d8644" stroke-width="1.3" />
<line x1="1596.4" y1="1384" x2="1609" y2="1384" stroke="#2d8644" stroke-width="1.3" />
<line x1="1726.3" y1="1411.7" x2="1726.3" y2="1450" stroke="#2d8644" stroke-width="1.3" />
<line x1="1720" y1="1411.7" x2="1732.6" y2="1411.7" stroke="#2d8644" stroke-width="1.3" />
<line x1="1720" y1="1450" x2="1732.6" y2="1450" stroke="#2d8644" stroke-width="1.3" />
<polygon points="1287.05,1133.7 1298.35,1133.7 1292.7,1143.7" fill="#1e7a35"/>
<polygon points="1411.35,1136 1422.65,1136 1417,1146" fill="#1e7a35"/>
<polygon points="1451.35,1155 1462.65,1155 1457,1165" fill="#1e7a35"/>
<polygon points="1574.65,1357.3 1585.95,1357.3 1580.3,1367.3" fill="#1e7a35"/>
<polygon points="1597.05,1371.7 1608.35,1371.7 1602.7,1381.7" fill="#1e7a35"/>
<polygon points="1720.65,1426 1731.95,1426 1726.3,1436" fill="#1e7a35"/>
<line x1="1407.7" y1="1480.7" x2="1426.3" y2="1499.3" stroke="#4a4a4a" stroke-width="2.7" stroke-linecap="round"/>
<line x1="1407.7" y1="1499.3" x2="1426.3" y2="1480.7" stroke="#4a4a4a" stroke-width="2.7" stroke-linecap="round"/>
<line x1="1447.7" y1="1468" x2="1466.3" y2="1486.6" stroke="#4a4a4a" stroke-width="2.7" stroke-linecap="round"/>
<line x1="1447.7" y1="1486.6" x2="1466.3" y2="1468" stroke="#4a4a4a" stroke-width="2.7" stroke-linecap="round"/>
<line x1="1571" y1="1156.7" x2="1589.6" y2="1175.3" stroke="#4a4a4a" stroke-width="2.7" stroke-linecap="round"/>
<line x1="1571" y1="1175.3" x2="1589.6" y2="1156.7" stroke="#4a4a4a" stroke-width="2.7" stroke-linecap="round"/>
<line x1="1593.4" y1="1246.7" x2="1612" y2="1265.3" stroke="#4a4a4a" stroke-width="2.7" stroke-linecap="round"/>
<line x1="1593.4" y1="1265.3" x2="1612" y2="1246.7" stroke="#4a4a4a" stroke-width="2.7" stroke-linecap="round"/>
<line x1="1717" y1="1341.7" x2="1735.6" y2="1360.3" stroke="#4a4a4a" stroke-width="2.7" stroke-linecap="round"/>
<line x1="1717" y1="1360.3" x2="1735.6" y2="1341.7" stroke="#4a4a4a" stroke-width="2.7" stroke-linecap="round"/>
<rect x="1219.9" y="1112.3" width="583.2" height="409" fill="none" stroke="#111" stroke-width="1.35"/>
<line x1="1219.9" y1="1124" x2="1213.6" y2="1124" stroke="#000" stroke-width="1.35" />
<text x="1205.8" y="1129.8" font-size="15.7" text-anchor="end" >1e+10</text>
<line x1="1219.9" y1="1163.73" x2="1213.6" y2="1163.73" stroke="#000" stroke-width="1.35" />
<text x="1205.8" y="1169.53" font-size="15.7" text-anchor="end" >1e+9</text>
<line x1="1219.9" y1="1203.46" x2="1213.6" y2="1203.46" stroke="#000" stroke-width="1.35" />
<text x="1205.8" y="1209.26" font-size="15.7" text-anchor="end" >1e+8</text>
<line x1="1219.9" y1="1243.19" x2="1213.6" y2="1243.19" stroke="#000" stroke-width="1.35" />
<text x="1205.8" y="1248.99" font-size="15.7" text-anchor="end" >1e+7</text>
<line x1="1219.9" y1="1282.92" x2="1213.6" y2="1282.92" stroke="#000" stroke-width="1.35" />
<text x="1205.8" y="1288.72" font-size="15.7" text-anchor="end" >1e+6</text>
<line x1="1219.9" y1="1322.65" x2="1213.6" y2="1322.65" stroke="#000" stroke-width="1.35" />
<text x="1205.8" y="1328.45" font-size="15.7" text-anchor="end" >1e+5</text>
<line x1="1219.9" y1="1362.38" x2="1213.6" y2="1362.38" stroke="#000" stroke-width="1.35" />
<text x="1205.8" y="1368.18" font-size="15.7" text-anchor="end" >1e+4</text>
<line x1="1219.9" y1="1402.11" x2="1213.6" y2="1402.11" stroke="#000" stroke-width="1.35" />
<text x="1205.8" y="1407.91" font-size="15.7" text-anchor="end" >1e+3</text>
<line x1="1219.9" y1="1441.84" x2="1213.6" y2="1441.84" stroke="#000" stroke-width="1.35" />
<text x="1205.8" y="1447.64" font-size="15.7" text-anchor="end" >1e+2</text>
<line x1="1219.9" y1="1481.57" x2="1213.6" y2="1481.57" stroke="#000" stroke-width="1.35" />
<text x="1205.8" y="1487.37" font-size="15.7" text-anchor="end" >1e+1</text>
<line x1="1219.9" y1="1521.3" x2="1213.6" y2="1521.3" stroke="#000" stroke-width="1.35" />
<text x="1205.8" y="1527.1" font-size="15.7" text-anchor="end" >1e+0</text>
<line x1="1044.4" y1="1111.62" x2="1044.4" y2="1521.97" stroke="#000" stroke-width="1.35" />
<line x1="1044.4" y1="1521.3" x2="1038.1" y2="1521.3" stroke="#000" stroke-width="1.35" />
<text x="1030.2" y="1527.1" font-size="15.7" text-anchor="end" >0</text>
<line x1="1044.4" y1="1439.44" x2="1038.1" y2="1439.44" stroke="#000" stroke-width="1.35" />
<text x="1030.2" y="1445.24" font-size="15.7" text-anchor="end" >200</text>
<line x1="1044.4" y1="1357.58" x2="1038.1" y2="1357.58" stroke="#000" stroke-width="1.35" />
<text x="1030.2" y="1363.38" font-size="15.7" text-anchor="end" >400</text>
<line x1="1044.4" y1="1275.72" x2="1038.1" y2="1275.72" stroke="#000" stroke-width="1.35" />
<text x="1030.2" y="1281.52" font-size="15.7" text-anchor="end" >600</text>
<line x1="1044.4" y1="1193.86" x2="1038.1" y2="1193.86" stroke="#000" stroke-width="1.35" />
<text x="1030.2" y="1199.66" font-size="15.7" text-anchor="end" >800</text>
<line x1="1044.4" y1="1112" x2="1038.1" y2="1112" stroke="#000" stroke-width="1.35" />
<text x="1030.2" y="1117.8" font-size="15.7" text-anchor="end" >1000</text>
<line x1="1128.3" y1="1111.62" x2="1128.3" y2="1521.97" stroke="#000" stroke-width="1.35" />
<line x1="1128.3" y1="1112" x2="1122" y2="1112" stroke="#000" stroke-width="1.35" />
<text x="1114.1" y="1117.8" font-size="15.7" text-anchor="end" >1e+9</text>
<line x1="1128.3" y1="1248.43" x2="1122" y2="1248.43" stroke="#000" stroke-width="1.35" />
<text x="1114.1" y="1254.23" font-size="15.7" text-anchor="end" >1e+8</text>
<line x1="1128.3" y1="1384.87" x2="1122" y2="1384.87" stroke="#000" stroke-width="1.35" />
<text x="1114.1" y="1390.67" font-size="15.7" text-anchor="end" >1e+7</text>
<line x1="1128.3" y1="1521.3" x2="1122" y2="1521.3" stroke="#000" stroke-width="1.35" />
<text x="1114.1" y="1527.1" font-size="15.7" text-anchor="end" >1e+6</text>
<line x1="1803.1" y1="1521.3" x2="1809.1" y2="1521.3" stroke="#000" stroke-width="1.35" />
<text x="1816.3" y="1527.1" font-size="15.7" text-anchor="start" >0</text>
<line x1="1803.1" y1="1404.44" x2="1809.1" y2="1404.44" stroke="#000" stroke-width="1.35" />
<text x="1816.3" y="1410.24" font-size="15.7" text-anchor="start" >100</text>
<line x1="1803.1" y1="1287.59" x2="1809.1" y2="1287.59" stroke="#000" stroke-width="1.35" />
<text x="1816.3" y="1293.39" font-size="15.7" text-anchor="start" >200</text>
<line x1="1803.1" y1="1170.73" x2="1809.1" y2="1170.73" stroke="#000" stroke-width="1.35" />
<text x="1816.3" y="1176.53" font-size="15.7" text-anchor="start" >300</text>
<line x1="1803.1" y1="1462.87" x2="1807.1" y2="1462.87" stroke="#000" stroke-width="1.35" />
<line x1="1803.1" y1="1346.01" x2="1807.1" y2="1346.01" stroke="#000" stroke-width="1.35" />
<line x1="1803.1" y1="1229.16" x2="1807.1" y2="1229.16" stroke="#000" stroke-width="1.35" />
<line x1="1803.1" y1="1112.3" x2="1807.1" y2="1112.3" stroke="#000" stroke-width="1.35" />
<line x1="1879.3" y1="1111.62" x2="1879.3" y2="1521.97" stroke="#000" stroke-width="1.35" />
<line x1="1879.3" y1="1490.3" x2="1885.6" y2="1490.3" stroke="#000" stroke-width="1.35" />
<text x="1898.1" y="1496.1" font-size="15.7" text-anchor="start" >0</text>
<line x1="1879.3" y1="1427.22" x2="1885.6" y2="1427.22" stroke="#000" stroke-width="1.35" />
<text x="1898.1" y="1433.02" font-size="15.7" text-anchor="start" >2</text>
<line x1="1879.3" y1="1364.13" x2="1885.6" y2="1364.13" stroke="#000" stroke-width="1.35" />
<text x="1898.1" y="1369.93" font-size="15.7" text-anchor="start" >4</text>
<line x1="1879.3" y1="1301.05" x2="1885.6" y2="1301.05" stroke="#000" stroke-width="1.35" />
<text x="1898.1" y="1306.85" font-size="15.7" text-anchor="start" >6</text>
<line x1="1879.3" y1="1237.97" x2="1885.6" y2="1237.97" stroke="#000" stroke-width="1.35" />
<text x="1898.1" y="1243.77" font-size="15.7" text-anchor="start" >8</text>
<line x1="1879.3" y1="1174.88" x2="1885.6" y2="1174.88" stroke="#000" stroke-width="1.35" />
<text x="1898.1" y="1180.68" font-size="15.7" text-anchor="start" >10</text>
<line x1="1879.3" y1="1111.8" x2="1885.6" y2="1111.8" stroke="#000" stroke-width="1.35" />
<text x="1898.1" y="1117.6" font-size="15.7" text-anchor="start" >12</text>
<line x1="1292.7" y1="1521.3" x2="1292.7" y2="1527.5" stroke="#000" stroke-width="1.35" />
<text x="1292.7" y="1549.6" font-size="15.7" text-anchor="middle" >0</text>
<line x1="1438.6" y1="1521.3" x2="1438.6" y2="1527.5" stroke="#000" stroke-width="1.35" />
<text x="1438.6" y="1549.6" font-size="15.7" text-anchor="middle" >20</text>
<line x1="1584.5" y1="1521.3" x2="1584.5" y2="1527.5" stroke="#000" stroke-width="1.35" />
<text x="1584.5" y="1549.6" font-size="15.7" text-anchor="middle" >40</text>
<line x1="1730.3" y1="1521.3" x2="1730.3" y2="1527.5" stroke="#000" stroke-width="1.35" />
<text x="1730.3" y="1549.6" font-size="15.7" text-anchor="middle" >60</text>
<text x="1511.7" y="1585.1" font-size="19" text-anchor="middle" >t [h]</text>
<text transform="translate(994.2,1231.35) rotate(-90)" font-size="16.2" text-anchor="end"><tspan dy="0">cellobiose [C-mmol L</tspan><tspan dy="-9.56">-1</tspan><tspan dy="9.56">]</tspan></text>
<text transform="translate(1072.4,1208.35) rotate(-90)" font-size="16.2" text-anchor="end"><tspan dy="0" font-style="italic">C. acetobutylicum</tspan><tspan dy="0"> [cells mL</tspan><tspan dy="-9.56">-1</tspan><tspan dy="9.56">]</tspan></text>
<text transform="translate(1153.8,1226.15) rotate(-90)" font-size="16.2" text-anchor="end"><tspan dy="0" font-style="italic">E. aerogenes</tspan><tspan dy="0"> [cells mL</tspan><tspan dy="-9.56">-1</tspan><tspan dy="9.56">]</tspan></text>
<text transform="translate(1866.7,1227.05) rotate(-90)" font-size="16.2" text-anchor="end"><tspan dy="0">by-products [C-mmol L</tspan><tspan dy="-9.56">-1</tspan><tspan dy="9.56">]</tspan></text>
<text transform="translate(1938.4,1247.35) rotate(-90)" font-size="16.2" text-anchor="end"><tspan dy="0">HER [mmol L</tspan><tspan dy="-9.56">-1</tspan><tspan dy="9.56">h</tspan><tspan dy="-9.56">-1</tspan><tspan dy="9.56">]</tspan></text>
<text transform="translate(1086.7,1094) scale(1.286,1.069)" font-size="38" style="stroke-width:0.7px">f</text>
<rect x="287.7" y="1631.4" width="1343.2" height="84.2" fill="none" stroke="#111" stroke-width="1.9"/>
<line x1="303.8" y1="1659.6" x2="355.7" y2="1659.6" stroke="#111" stroke-width="1.5" />
<circle cx="329.7" cy="1659.6" r="7.0" fill="#000" stroke="none" stroke-width="0"/>
<line x1="303.8" y1="1685.1" x2="355.7" y2="1685.1" stroke="#111" stroke-width="1.5" />
<circle cx="329.7" cy="1685.1" r="6.2" fill="#fff" stroke="#111" stroke-width="1.5"/>
<text x="368.2" y="1667.6" font-size="22.65" text-anchor="start" font-style="italic" >E. aerogenes</text>
<text x="368.3" y="1693.1" font-size="22.65" text-anchor="start" font-style="italic" >C. acetobutylicum</text>
<line x1="563" y1="1659.6" x2="614.9" y2="1659.6" stroke="#2e3192" stroke-width="1.5" />
<polygon points="581.5,1655.2 596.5,1655.2 589,1668.2" fill="#2e3192"/>
<line x1="563" y1="1685.1" x2="614.9" y2="1685.1" stroke="#2d8644" stroke-width="1.5" />
<polygon points="581.5,1680.7 596.5,1680.7 589,1693.7" fill="#1e7a35"/>
<text x="627" y="1667.6" font-size="22.65" text-anchor="start" >glucose</text>
<text x="627" y="1693.1" font-size="22.65" text-anchor="start" >cellobiose</text>
<rect x="747.9" y="1650.2" width="54.3" height="19.3" rx="1.5" fill="#62b592"/>
<rect x="747.9" y="1675.6" width="54.3" height="19.3" rx="1.5" fill="#e8764b"/>
<text x="814.3" y="1667.6" font-size="22.65" text-anchor="start" >formic acid</text>
<text x="813.8" y="1693.1" font-size="22.65" text-anchor="start" >ethanol</text>
<rect x="944.4" y="1650.2" width="54.3" height="19.3" rx="1.5" fill="#7b8cc2"/>
<rect x="944.4" y="1675.6" width="54.3" height="19.3" rx="1.5" fill="#d670ad"/>
<text x="1008.9" y="1667.6" font-size="22.65" text-anchor="start" >iso-butyric acid</text>
<text x="1008.9" y="1693.1" font-size="22.65" text-anchor="start" >butyric acid</text>
<rect x="1180.7" y="1650.2" width="54.3" height="19.3" rx="1.5" fill="#98ca3c"/>
<rect x="1180.7" y="1675.6" width="54.3" height="19.3" rx="1.5" fill="#f6d410"/>
<text x="1245.4" y="1667.6" font-size="22.65" text-anchor="start" >L-2,3-Butanediol</text>
<text x="1245.4" y="1693.1" font-size="22.65" text-anchor="start" >D-2,3-Butanediol</text>
<rect x="1435.9" y="1650.2" width="54.3" height="19.3" rx="1.5" fill="#dcb67c"/>
<line x1="1451.15" y1="1673.35" x2="1474.65" y2="1696.85" stroke="#4a4a4a" stroke-width="3.0" stroke-linecap="round"/>
<line x1="1451.15" y1="1696.85" x2="1474.65" y2="1673.35" stroke="#4a4a4a" stroke-width="3.0" stroke-linecap="round"/>
<text x="1501.3" y="1667.6" font-size="22.65" text-anchor="start" >acetic acid</text>
<text x="1500.4" y="1693.1" font-size="22.65" text-anchor="start" >HER</text>
</svg>
</body></html>
